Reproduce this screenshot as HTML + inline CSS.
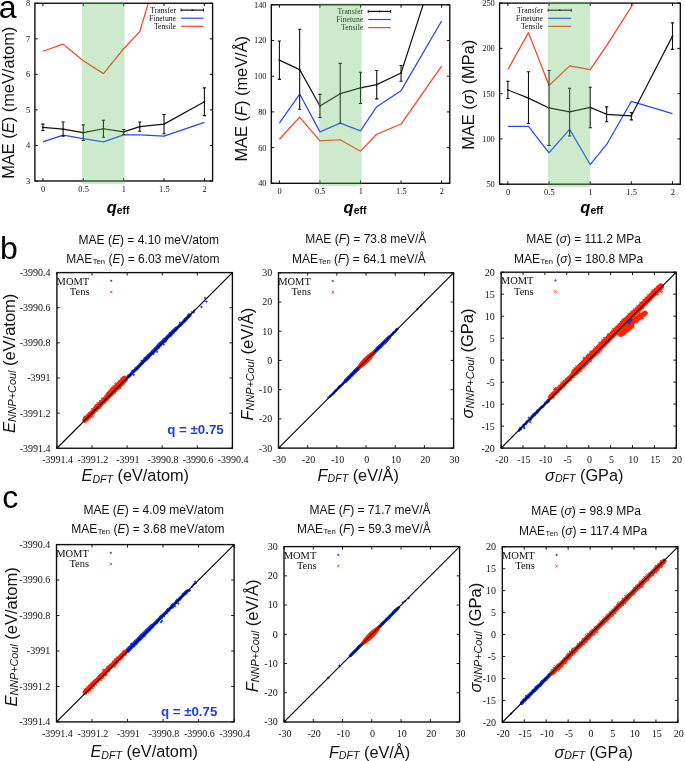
<!DOCTYPE html><html><head><meta charset="utf-8"><style>html,body{margin:0;padding:0;background:#fff;overflow:hidden}svg{display:block;will-change:transform}</style></head><body>
<svg width="685" height="761" viewBox="0 0 685 761">
<rect width="685" height="761" fill="#fff"/>
<clipPath id="ca1"><rect x="34.9" y="3.25" width="177.7" height="177.75"/></clipPath>
<text x="43.20" y="191.80" font-family="'Liberation Serif', serif" font-size="8.4" text-anchor="middle" fill="#111">0</text>
<text x="83.58" y="191.80" font-family="'Liberation Serif', serif" font-size="8.4" text-anchor="middle" fill="#111">0.5</text>
<text x="123.95" y="191.80" font-family="'Liberation Serif', serif" font-size="8.4" text-anchor="middle" fill="#111">1</text>
<text x="164.33" y="191.80" font-family="'Liberation Serif', serif" font-size="8.4" text-anchor="middle" fill="#111">1.5</text>
<text x="204.70" y="191.80" font-family="'Liberation Serif', serif" font-size="8.4" text-anchor="middle" fill="#111">2</text>
<text x="30.10" y="183.90" font-family="'Liberation Serif', serif" font-size="8.4" text-anchor="end" fill="#111">3</text>
<text x="30.10" y="148.35" font-family="'Liberation Serif', serif" font-size="8.4" text-anchor="end" fill="#111">4</text>
<text x="30.10" y="112.80" font-family="'Liberation Serif', serif" font-size="8.4" text-anchor="end" fill="#111">5</text>
<text x="30.10" y="77.25" font-family="'Liberation Serif', serif" font-size="8.4" text-anchor="end" fill="#111">6</text>
<text x="30.10" y="41.70" font-family="'Liberation Serif', serif" font-size="8.4" text-anchor="end" fill="#111">7</text>
<text x="30.10" y="6.15" font-family="'Liberation Serif', serif" font-size="8.4" text-anchor="end" fill="#111">8</text>
<path d="M42.90 181.0v-2.9M42.90 3.25v2.9M83.28 181.0v-2.9M83.28 3.25v2.9M123.65 181.0v-2.9M123.65 3.25v2.9M164.03 181.0v-2.9M164.03 3.25v2.9M204.40 181.0v-2.9M204.40 3.25v2.9M34.9 181.00h2.9M212.6 181.00h-2.9M34.9 145.45h2.9M212.6 145.45h-2.9M34.9 109.90h2.9M212.6 109.90h-2.9M34.9 74.35h2.9M212.6 74.35h-2.9M34.9 38.80h2.9M212.6 38.80h-2.9M34.9 3.25h2.9M212.6 3.25h-2.9" stroke="#0a0a0a" stroke-width="0.95"/>
<g clip-path="url(#ca1)" fill="none" stroke-linejoin="round">
<polyline points="42.90,51.24 63.09,44.13 83.28,60.84 103.46,73.64 123.65,48.75 139.80,31.69 164.03,-50.07" stroke="#ff3f1f" stroke-width="1.25"/>
<polyline points="42.90,141.90 63.09,135.14 83.28,138.70 103.46,141.90 123.65,134.79 139.80,134.79 164.03,136.21 204.40,122.34" stroke="#2448ff" stroke-width="1.25"/>
<polyline points="42.90,127.32 63.09,129.10 83.28,132.65 103.46,128.74 123.65,131.94 139.80,126.61 164.03,124.12 204.40,101.72" stroke="#111" stroke-width="1.2"/>
<path d="M42.90 130.52V124.12M41.30 130.52h3.2M41.30 124.12h3.2M63.09 136.21V121.99M61.49 136.21h3.2M61.49 121.99h3.2M83.28 140.47V124.83M81.68 140.47h3.2M81.68 124.83h3.2M103.46 137.27V120.21M101.86 137.27h3.2M101.86 120.21h3.2M123.65 134.43V129.45M122.05 134.43h3.2M122.05 129.45h3.2M139.80 131.23V121.99M138.20 131.23h3.2M138.20 121.99h3.2M164.03 133.72V114.52M162.43 133.72h3.2M162.43 114.52h3.2M204.40 115.59V87.86M202.80 115.59h3.2M202.80 87.86h3.2" stroke="#111" stroke-width="1.1"/>
<circle cx="42.90" cy="127.32" r="0.9" fill="#111" stroke="none"/>
<circle cx="63.09" cy="129.10" r="0.9" fill="#111" stroke="none"/>
<circle cx="83.28" cy="132.65" r="0.9" fill="#111" stroke="none"/>
<circle cx="103.46" cy="128.74" r="0.9" fill="#111" stroke="none"/>
<circle cx="123.65" cy="131.94" r="0.9" fill="#111" stroke="none"/>
<circle cx="139.80" cy="126.61" r="0.9" fill="#111" stroke="none"/>
<circle cx="164.03" cy="124.12" r="0.9" fill="#111" stroke="none"/>
<circle cx="204.40" cy="101.72" r="0.9" fill="#111" stroke="none"/>
</g>
<rect x="34.90" y="3.25" width="177.70" height="177.75" fill="none" stroke="#0a0a0a" stroke-width="1.35"/>
<text x="176.00" y="12.70" font-family="'Liberation Serif', serif" font-size="7.7" text-anchor="end" fill="#111">Transfer</text>
<line x1="181.10" y1="10.10" x2="203.50" y2="10.10" stroke="#111" stroke-width="1.2"/>
<path d="M181.10 8.60v3M203.50 8.60v3" stroke="#111" stroke-width="1"/>
<circle cx="192.30" cy="10.10" r="0.9" fill="#111"/>
<text x="176.00" y="20.80" font-family="'Liberation Serif', serif" font-size="7.7" text-anchor="end" fill="#111">Finetune</text>
<line x1="181.10" y1="18.20" x2="203.50" y2="18.20" stroke="#2448ff" stroke-width="1.2"/>
<text x="176.00" y="28.90" font-family="'Liberation Serif', serif" font-size="7.7" text-anchor="end" fill="#111">Tensile</text>
<line x1="181.10" y1="26.30" x2="203.50" y2="26.30" stroke="#ff3f1f" stroke-width="1.2"/>
<rect x="82.00" y="1.65" width="42.60" height="182.35" fill="rgb(95,188,92)" fill-opacity="0.315"/>
<text transform="translate(13.90,178.80) rotate(-90)" font-family="'Liberation Sans', sans-serif" font-size="16.4" fill="#111">MAE (<tspan font-style="italic">E</tspan>) (meV/atom)</text>
<text x="106.70" y="212.90" font-family="'Liberation Sans', sans-serif" font-weight="bold" fill="#000"><tspan font-style="italic" font-size="16.5">q</tspan><tspan font-size="10.5" dy="0.8">eff</tspan></text>
<clipPath id="ca2"><rect x="271.3" y="4.8" width="178.5" height="178.5"/></clipPath>
<text x="279.70" y="194.10" font-family="'Liberation Serif', serif" font-size="8.4" text-anchor="middle" fill="#111">0</text>
<text x="320.25" y="194.10" font-family="'Liberation Serif', serif" font-size="8.4" text-anchor="middle" fill="#111">0.5</text>
<text x="360.80" y="194.10" font-family="'Liberation Serif', serif" font-size="8.4" text-anchor="middle" fill="#111">1</text>
<text x="401.35" y="194.10" font-family="'Liberation Serif', serif" font-size="8.4" text-anchor="middle" fill="#111">1.5</text>
<text x="441.90" y="194.10" font-family="'Liberation Serif', serif" font-size="8.4" text-anchor="middle" fill="#111">2</text>
<text x="266.50" y="186.20" font-family="'Liberation Serif', serif" font-size="8.4" text-anchor="end" fill="#111">40</text>
<text x="266.50" y="150.50" font-family="'Liberation Serif', serif" font-size="8.4" text-anchor="end" fill="#111">60</text>
<text x="266.50" y="114.80" font-family="'Liberation Serif', serif" font-size="8.4" text-anchor="end" fill="#111">80</text>
<text x="266.50" y="79.10" font-family="'Liberation Serif', serif" font-size="8.4" text-anchor="end" fill="#111">100</text>
<text x="266.50" y="43.40" font-family="'Liberation Serif', serif" font-size="8.4" text-anchor="end" fill="#111">120</text>
<text x="266.50" y="7.70" font-family="'Liberation Serif', serif" font-size="8.4" text-anchor="end" fill="#111">140</text>
<path d="M279.40 183.3v-2.9M279.40 4.8v2.9M319.95 183.3v-2.9M319.95 4.8v2.9M360.50 183.3v-2.9M360.50 4.8v2.9M401.05 183.3v-2.9M401.05 4.8v2.9M441.60 183.3v-2.9M441.60 4.8v2.9M271.3 183.30h2.9M449.8 183.30h-2.9M271.3 147.60h2.9M449.8 147.60h-2.9M271.3 111.90h2.9M449.8 111.90h-2.9M271.3 76.20h2.9M449.8 76.20h-2.9M271.3 40.50h2.9M449.8 40.50h-2.9M271.3 4.80h2.9M449.8 4.80h-2.9" stroke="#0a0a0a" stroke-width="0.95"/>
<g clip-path="url(#ca2)" fill="none" stroke-linejoin="round">
<polyline points="279.40,139.21 299.67,117.08 319.95,140.82 340.23,139.75 360.50,151.17 376.72,134.21 401.05,124.04 441.60,66.20" stroke="#ff3f1f" stroke-width="1.25"/>
<polyline points="279.40,123.15 299.67,94.05 319.95,131.89 340.23,123.15 360.50,130.82 376.72,106.72 401.05,90.66 441.60,21.04" stroke="#2448ff" stroke-width="1.25"/>
<polyline points="279.40,60.14 299.67,69.60 319.95,106.01 340.23,93.69 360.50,87.80 376.72,84.59 401.05,72.99 441.60,-52.32" stroke="#111" stroke-width="1.2"/>
<path d="M279.40 79.41V41.04M277.80 79.41h3.2M277.80 41.04h3.2M299.67 109.22V29.25M298.07 109.22h3.2M298.07 29.25h3.2M319.95 117.43V94.41M318.35 117.43h3.2M318.35 94.41h3.2M340.23 123.50V63.35M338.62 123.50h3.2M338.62 63.35h3.2M360.50 103.51V72.27M358.90 103.51h3.2M358.90 72.27h3.2M376.72 98.87V70.49M375.12 98.87h3.2M375.12 70.49h3.2M401.05 81.20V65.49M399.45 81.20h3.2M399.45 65.49h3.2" stroke="#111" stroke-width="1.1"/>
<circle cx="279.40" cy="60.14" r="0.9" fill="#111" stroke="none"/>
<circle cx="299.67" cy="69.60" r="0.9" fill="#111" stroke="none"/>
<circle cx="319.95" cy="106.01" r="0.9" fill="#111" stroke="none"/>
<circle cx="340.23" cy="93.69" r="0.9" fill="#111" stroke="none"/>
<circle cx="360.50" cy="87.80" r="0.9" fill="#111" stroke="none"/>
<circle cx="376.72" cy="84.59" r="0.9" fill="#111" stroke="none"/>
<circle cx="401.05" cy="72.99" r="0.9" fill="#111" stroke="none"/>
</g>
<rect x="271.30" y="4.80" width="178.50" height="178.50" fill="none" stroke="#0a0a0a" stroke-width="1.35"/>
<text x="363.20" y="14.00" font-family="'Liberation Serif', serif" font-size="7.7" text-anchor="end" fill="#111">Transfer</text>
<line x1="368.20" y1="11.40" x2="390.70" y2="11.40" stroke="#111" stroke-width="1.2"/>
<path d="M368.20 9.90v3M390.70 9.90v3" stroke="#111" stroke-width="1"/>
<circle cx="379.45" cy="11.40" r="0.9" fill="#111"/>
<text x="363.20" y="22.10" font-family="'Liberation Serif', serif" font-size="7.7" text-anchor="end" fill="#111">Finetune</text>
<line x1="368.20" y1="19.50" x2="390.70" y2="19.50" stroke="#2448ff" stroke-width="1.2"/>
<text x="363.20" y="30.20" font-family="'Liberation Serif', serif" font-size="7.7" text-anchor="end" fill="#111">Tensile</text>
<line x1="368.20" y1="27.60" x2="390.70" y2="27.60" stroke="#ff3f1f" stroke-width="1.2"/>
<rect x="318.90" y="3.20" width="42.80" height="183.10" fill="rgb(95,188,92)" fill-opacity="0.315"/>
<text transform="translate(247.30,161.60) rotate(-90)" font-family="'Liberation Sans', sans-serif" font-size="16.4" fill="#111">MAE (<tspan font-style="italic">F</tspan>) (meV/Å)</text>
<text x="343.60" y="212.90" font-family="'Liberation Sans', sans-serif" font-weight="bold" fill="#000"><tspan font-style="italic" font-size="16.5">q</tspan><tspan font-size="10.5" dy="0.8">eff</tspan></text>
<clipPath id="ca3"><rect x="499.6" y="3.1" width="180.69999999999993" height="181.1"/></clipPath>
<text x="508.20" y="195.00" font-family="'Liberation Serif', serif" font-size="8.4" text-anchor="middle" fill="#111">0</text>
<text x="549.35" y="195.00" font-family="'Liberation Serif', serif" font-size="8.4" text-anchor="middle" fill="#111">0.5</text>
<text x="590.50" y="195.00" font-family="'Liberation Serif', serif" font-size="8.4" text-anchor="middle" fill="#111">1</text>
<text x="631.65" y="195.00" font-family="'Liberation Serif', serif" font-size="8.4" text-anchor="middle" fill="#111">1.5</text>
<text x="672.80" y="195.00" font-family="'Liberation Serif', serif" font-size="8.4" text-anchor="middle" fill="#111">2</text>
<text x="494.80" y="187.10" font-family="'Liberation Serif', serif" font-size="8.4" text-anchor="end" fill="#111">50</text>
<text x="494.80" y="141.82" font-family="'Liberation Serif', serif" font-size="8.4" text-anchor="end" fill="#111">100</text>
<text x="494.80" y="96.55" font-family="'Liberation Serif', serif" font-size="8.4" text-anchor="end" fill="#111">150</text>
<text x="494.80" y="51.27" font-family="'Liberation Serif', serif" font-size="8.4" text-anchor="end" fill="#111">200</text>
<text x="494.80" y="6.00" font-family="'Liberation Serif', serif" font-size="8.4" text-anchor="end" fill="#111">250</text>
<path d="M507.90 184.2v-2.9M507.90 3.1v2.9M549.05 184.2v-2.9M549.05 3.1v2.9M590.20 184.2v-2.9M590.20 3.1v2.9M631.35 184.2v-2.9M631.35 3.1v2.9M672.50 184.2v-2.9M672.50 3.1v2.9M499.6 184.20h2.9M680.3 184.20h-2.9M499.6 138.92h2.9M680.3 138.92h-2.9M499.6 93.65h2.9M680.3 93.65h-2.9M499.6 48.38h2.9M680.3 48.38h-2.9M499.6 3.10h2.9M680.3 3.10h-2.9" stroke="#0a0a0a" stroke-width="0.95"/>
<g clip-path="url(#ca3)" fill="none" stroke-linejoin="round">
<polyline points="507.90,69.56 528.48,32.62 549.05,85.50 569.62,65.85 590.20,69.65 606.66,45.66 631.35,6.72 639.58,-7.77" stroke="#ff3f1f" stroke-width="1.25"/>
<polyline points="507.90,126.43 528.48,126.43 549.05,152.78 569.62,129.42 590.20,164.55 606.66,144.45 631.35,101.44 672.50,113.57" stroke="#2448ff" stroke-width="1.25"/>
<polyline points="507.90,89.94 528.48,98.09 549.05,107.96 569.62,111.85 590.20,107.41 606.66,114.30 631.35,115.83 672.50,36.15" stroke="#111" stroke-width="1.2"/>
<path d="M507.90 98.45V81.24M506.30 98.45h3.2M506.30 81.24h3.2M528.48 123.53V71.74M526.88 123.53h3.2M526.88 71.74h3.2M549.05 145.44V70.56M547.45 145.44h3.2M547.45 70.56h3.2M569.62 135.94V88.22M568.02 135.94h3.2M568.02 88.22h3.2M590.20 127.70V87.31M588.60 127.70h3.2M588.60 87.31h3.2M606.66 121.72V106.87M605.06 121.72h3.2M605.06 106.87h3.2M631.35 119.91V112.57M629.75 119.91h3.2M629.75 112.57h3.2M672.50 49.37V22.84M670.90 49.37h3.2M670.90 22.84h3.2" stroke="#111" stroke-width="1.1"/>
<circle cx="507.90" cy="89.94" r="0.9" fill="#111" stroke="none"/>
<circle cx="528.48" cy="98.09" r="0.9" fill="#111" stroke="none"/>
<circle cx="549.05" cy="107.96" r="0.9" fill="#111" stroke="none"/>
<circle cx="569.62" cy="111.85" r="0.9" fill="#111" stroke="none"/>
<circle cx="590.20" cy="107.41" r="0.9" fill="#111" stroke="none"/>
<circle cx="606.66" cy="114.30" r="0.9" fill="#111" stroke="none"/>
<circle cx="631.35" cy="115.83" r="0.9" fill="#111" stroke="none"/>
<circle cx="672.50" cy="36.15" r="0.9" fill="#111" stroke="none"/>
</g>
<rect x="499.60" y="3.10" width="180.70" height="181.10" fill="none" stroke="#0a0a0a" stroke-width="1.35"/>
<text x="543.00" y="12.80" font-family="'Liberation Serif', serif" font-size="7.7" text-anchor="end" fill="#111">Transfer</text>
<line x1="548.20" y1="10.20" x2="571.20" y2="10.20" stroke="#111" stroke-width="1.2"/>
<path d="M548.20 8.70v3M571.20 8.70v3" stroke="#111" stroke-width="1"/>
<circle cx="559.70" cy="10.20" r="0.9" fill="#111"/>
<text x="543.00" y="20.90" font-family="'Liberation Serif', serif" font-size="7.7" text-anchor="end" fill="#111">Finetune</text>
<line x1="548.20" y1="18.30" x2="571.20" y2="18.30" stroke="#2448ff" stroke-width="1.2"/>
<text x="543.00" y="29.00" font-family="'Liberation Serif', serif" font-size="7.7" text-anchor="end" fill="#111">Tensile</text>
<line x1="548.20" y1="26.40" x2="571.20" y2="26.40" stroke="#ff3f1f" stroke-width="1.2"/>
<rect x="548.00" y="1.50" width="42.30" height="185.70" fill="rgb(95,188,92)" fill-opacity="0.315"/>
<text transform="translate(474.20,149.80) rotate(-90)" font-family="'Liberation Sans', sans-serif" font-size="16.4" fill="#111">MAE (<tspan font-style="italic">σ</tspan>) (MPa)</text>
<text x="580.30" y="212.90" font-family="'Liberation Sans', sans-serif" font-weight="bold" fill="#000"><tspan font-style="italic" font-size="16.5">q</tspan><tspan font-size="10.5" dy="0.8">eff</tspan></text>
<clipPath id="cb1"><rect x="56.9" y="272.6" width="175.5" height="175.64999999999998"/></clipPath>
<text x="57.70" y="462.95" font-family="'Liberation Serif', serif" font-size="10" text-anchor="middle" fill="#111">-3991.4</text>
<text x="50.60" y="451.65" font-family="'Liberation Serif', serif" font-size="10" text-anchor="end" fill="#111">-3991.4</text>
<text x="92.80" y="462.95" font-family="'Liberation Serif', serif" font-size="10" text-anchor="middle" fill="#111">-3991.2</text>
<text x="50.60" y="416.52" font-family="'Liberation Serif', serif" font-size="10" text-anchor="end" fill="#111">-3991.2</text>
<text x="127.90" y="462.95" font-family="'Liberation Serif', serif" font-size="10" text-anchor="middle" fill="#111">-3991</text>
<text x="50.60" y="381.39" font-family="'Liberation Serif', serif" font-size="10" text-anchor="end" fill="#111">-3991</text>
<text x="163.00" y="462.95" font-family="'Liberation Serif', serif" font-size="10" text-anchor="middle" fill="#111">-3990.8</text>
<text x="50.60" y="346.26" font-family="'Liberation Serif', serif" font-size="10" text-anchor="end" fill="#111">-3990.8</text>
<text x="198.10" y="462.95" font-family="'Liberation Serif', serif" font-size="10" text-anchor="middle" fill="#111">-3990.6</text>
<text x="50.60" y="311.13" font-family="'Liberation Serif', serif" font-size="10" text-anchor="end" fill="#111">-3990.6</text>
<text x="233.20" y="462.95" font-family="'Liberation Serif', serif" font-size="10" text-anchor="middle" fill="#111">-3990.4</text>
<text x="50.60" y="276.00" font-family="'Liberation Serif', serif" font-size="10" text-anchor="end" fill="#111">-3990.4</text>
<path d="M56.90 448.25v-3.0M56.90 272.6v3.0M56.9 448.25h3.0M232.4 448.25h-3.0M92.00 448.25v-3.0M92.00 272.6v3.0M56.9 413.12h3.0M232.4 413.12h-3.0M127.10 448.25v-3.0M127.10 272.6v3.0M56.9 377.99h3.0M232.4 377.99h-3.0M162.20 448.25v-3.0M162.20 272.6v3.0M56.9 342.86h3.0M232.4 342.86h-3.0M197.30 448.25v-3.0M197.30 272.6v3.0M56.9 307.73h3.0M232.4 307.73h-3.0M232.40 448.25v-3.0M232.40 272.6v3.0M56.9 272.60h3.0M232.4 272.60h-3.0" stroke="#0a0a0a" stroke-width="0.9"/>
<g clip-path="url(#cb1)" fill="none">
<path d="M128.0 377.1L190.3 314.8" stroke="#0b30ff" stroke-width="3.1" stroke-linecap="round"/>
<path d="M144.4 360.1L176.0 328.5" stroke="#0b30ff" stroke-width="3.7" stroke-linecap="round"/>
<path d="M154.7 348.6h2.2M155.8 347.5v2.2M180.3 323.9h2.2M181.4 322.8v2.2M158.8 345.3h2.2M159.9 344.2v2.2M146.2 358.6h2.2M147.3 357.5v2.2M182.8 322.1h2.2M183.9 321.0v2.2M151.1 351.9h2.2M152.2 350.8v2.2M165.7 339.2h2.2M166.8 338.1v2.2M178.7 325.3h2.2M179.8 324.2v2.2M139.2 365.7h2.2M140.3 364.6v2.2M175.0 328.2h2.2M176.1 327.1v2.2M179.9 325.1h2.2M181.0 324.0v2.2M158.4 346.3h2.2M159.5 345.2v2.2M144.8 360.3h2.2M145.9 359.2v2.2M146.9 357.9h2.2M148.0 356.8v2.2M129.0 375.6h2.2M130.1 374.5v2.2M179.6 324.3h2.2M180.7 323.2v2.2M128.1 376.2h2.2M129.2 375.1v2.2M185.0 319.7h2.2M186.1 318.6v2.2M187.6 315.7h2.2M188.7 314.6v2.2M162.8 342.4h2.2M163.9 341.3v2.2M143.9 360.5h2.2M145.0 359.4v2.2M127.2 375.6h2.2M128.3 374.5v2.2M134.8 370.3h2.2M135.9 369.2v2.2M126.9 375.8h2.2M128.0 374.7v2.2M138.3 366.4h2.2M139.4 365.3v2.2M139.1 365.5h2.2M140.2 364.4v2.2M150.5 352.9h2.2M151.6 351.8v2.2M139.5 363.2h2.2M140.6 362.1v2.2M186.8 315.5h2.2M187.9 314.4v2.2M128.4 376.2h2.2M129.5 375.1v2.2M180.1 323.9h2.2M181.2 322.8v2.2M135.8 367.8h2.2M136.9 366.7v2.2M174.4 328.3h2.2M175.5 327.2v2.2M151.0 353.1h2.2M152.1 352.0v2.2M163.2 340.8h2.2M164.3 339.7v2.2M149.7 354.0h2.2M150.8 352.9v2.2M164.1 341.2h2.2M165.2 340.1v2.2M138.5 366.0h2.2M139.6 364.9v2.2M141.7 363.4h2.2M142.8 362.3v2.2M137.3 367.8h2.2M138.4 366.7v2.2M150.6 352.4h2.2M151.7 351.3v2.2M153.2 350.9h2.2M154.3 349.8v2.2M158.6 345.0h2.2M159.7 343.9v2.2M170.4 332.8h2.2M171.5 331.7v2.2M183.0 320.5h2.2M184.1 319.4v2.2M137.9 366.3h2.2M139.0 365.2v2.2M157.0 347.4h2.2M158.1 346.3v2.2M184.6 320.5h2.2M185.7 319.4v2.2M130.8 372.5h2.2M131.9 371.4v2.2M130.9 373.6h2.2M132.0 372.5v2.2M160.0 344.1h2.2M161.1 343.0v2.2M134.7 367.7h2.2M135.8 366.6v2.2M168.3 336.6h2.2M169.4 335.5v2.2M183.7 318.8h2.2M184.8 317.7v2.2M170.6 333.4h2.2M171.7 332.3v2.2M166.5 337.4h2.2M167.6 336.3v2.2M147.0 358.5h2.2M148.1 357.4v2.2M131.0 371.8h2.2M132.1 370.7v2.2M183.6 321.6h2.2M184.7 320.5v2.2M183.8 320.0h2.2M184.9 318.9v2.2M157.0 348.3h2.2M158.1 347.2v2.2M153.5 351.8h2.2M154.6 350.7v2.2M162.3 341.1h2.2M163.4 340.0v2.2M127.7 376.4h2.2M128.8 375.3v2.2M166.0 336.6h2.2M167.1 335.5v2.2M171.5 331.0h2.2M172.6 329.9v2.2M169.8 333.5h2.2M170.9 332.4v2.2M179.5 325.2h2.2M180.6 324.1v2.2M158.5 344.6h2.2M159.6 343.5v2.2M157.6 347.9h2.2M158.7 346.8v2.2M133.7 369.9h2.2M134.8 368.8v2.2M127.5 376.3h2.2M128.6 375.2v2.2M165.6 339.6h2.2M166.7 338.5v2.2M147.8 355.4h2.2M148.9 354.3v2.2M141.4 361.5h2.2M142.5 360.4v2.2M138.6 364.1h2.2M139.7 363.0v2.2M174.6 330.7h2.2M175.7 329.6v2.2M150.7 353.0h2.2M151.8 351.9v2.2M134.6 368.1h2.2M135.7 367.0v2.2M171.0 334.3h2.2M172.1 333.2v2.2M152.2 351.6h2.2M153.3 350.5v2.2M159.0 346.1h2.2M160.1 345.0v2.2M154.7 347.4h2.2M155.8 346.3v2.2M165.5 337.1h2.2M166.6 336.0v2.2M168.6 333.1h2.2M169.7 332.0v2.2M144.0 358.2h2.2M145.1 357.1v2.2M153.7 351.0h2.2M154.8 349.9v2.2M156.2 347.4h2.2M157.3 346.3v2.2M170.3 334.7h2.2M171.4 333.6v2.2M168.9 335.4h2.2M170.0 334.3v2.2M162.2 339.3h2.2M163.3 338.2v2.2M165.7 339.3h2.2M166.8 338.2v2.2M152.1 352.8h2.2M153.2 351.7v2.2M160.4 343.5h2.2M161.5 342.4v2.2M151.3 351.0h2.2M152.4 349.9v2.2M173.6 330.6h2.2M174.7 329.5v2.2M168.4 335.3h2.2M169.5 334.2v2.2M172.5 330.5h2.2M173.6 329.4v2.2M158.0 346.2h2.2M159.1 345.1v2.2M160.7 341.7h2.2M161.8 340.6v2.2M164.0 339.7h2.2M165.1 338.6v2.2M170.9 333.0h2.2M172.0 331.9v2.2M172.7 332.7h2.2M173.8 331.6v2.2M159.9 342.9h2.2M161.0 341.8v2.2M166.3 337.8h2.2M167.4 336.7v2.2M145.5 357.1h2.2M146.6 356.0v2.2M156.1 346.3h2.2M157.2 345.2v2.2M144.6 359.7h2.2M145.7 358.6v2.2M143.7 358.3h2.2M144.8 357.2v2.2M172.0 331.0h2.2M173.1 329.9v2.2M158.6 342.9h2.2M159.7 341.8v2.2M159.6 345.3h2.2M160.7 344.2v2.2M156.3 345.4h2.2M157.4 344.3v2.2M161.6 342.9h2.2M162.7 341.8v2.2M169.6 333.1h2.2M170.7 332.0v2.2M155.7 348.4h2.2M156.8 347.3v2.2M147.1 355.1h2.2M148.2 354.0v2.2M150.1 354.3h2.2M151.2 353.2v2.2M163.0 341.6h2.2M164.1 340.5v2.2M131.4 370.8h2.2M132.5 369.7v2.2M192.5 312.4h2.2M193.6 311.3v2.2M136.8 366.3h2.2M137.9 365.2v2.2M188.0 315.3h2.2M189.1 314.2v2.2M157.2 344.1h2.2M158.3 343.0v2.2M155.8 349.6h2.2M156.9 348.5v2.2M145.8 359.7h2.2M146.9 358.6v2.2M186.4 317.5h2.2M187.5 316.4v2.2M187.7 314.4h2.2M188.8 313.3v2.2M136.9 368.1h2.2M138.0 367.0v2.2M155.4 347.3h2.2M156.5 346.2v2.2M173.7 330.0h2.2M174.8 328.9v2.2M190.8 312.2h2.2M191.9 311.1v2.2M130.1 373.6h2.2M131.2 372.5v2.2M147.6 356.6h2.2M148.7 355.5v2.2M161.7 343.6h2.2M162.8 342.5v2.2M162.5 344.3h2.2M163.6 343.2v2.2M169.7 335.9h2.2M170.8 334.8v2.2M175.4 329.6h2.2M176.5 328.5v2.2M132.6 374.7h2.2M133.7 373.6v2.2M169.0 333.9h2.2M170.1 332.8v2.2M164.6 341.5h2.2M165.7 340.4v2.2M184.7 320.4h2.2M185.8 319.3v2.2M143.3 360.9h2.2M144.4 359.8v2.2M164.2 340.5h2.2M165.3 339.4v2.2M187.5 316.9h2.2M188.6 315.8v2.2M169.5 335.1h2.2M170.6 334.0v2.2M167.2 335.9h2.2M168.3 334.8v2.2M185.3 317.7h2.2M186.4 316.6v2.2M140.4 360.8h2.2M141.5 359.7v2.2M135.3 368.0h2.2M136.4 366.9v2.2M135.4 369.2h2.2M136.5 368.1v2.2M155.9 351.8h2.2M157.0 350.7v2.2M163.0 339.3h2.2M164.1 338.2v2.2M173.7 329.5h2.2M174.8 328.4v2.2M178.8 322.8h2.2M179.9 321.7v2.2M136.3 369.1h2.2M137.4 368.0v2.2M181.7 322.9h2.2M182.8 321.8v2.2M152.7 352.0h2.2M153.8 350.9v2.2M152.4 353.9h2.2M153.5 352.8v2.2M204.0 298.0h2.2M205.1 296.9v2.2M200.3 307.0h2.2M201.4 305.9v2.2M192.9 310.8h2.2M194.0 309.7v2.2M205.3 301.6h2.2M206.4 300.5v2.2" stroke="#0b30ff" stroke-width="1"/>
<path d="M84.8 420.0L93.6 411.2" stroke="#ff2200" stroke-width="5.2" stroke-linecap="round"/>
<path d="M95.2 409.3L107.5 397.0" stroke="#ff2200" stroke-width="5.6" stroke-linecap="round"/>
<path d="M108.9 394.9L124.7 379.1" stroke="#ff2200" stroke-width="6.6" stroke-linecap="round"/>
<path d="M88.7 415.4l2.4 2.4M88.7 417.8l2.4-2.4M86.8 418.4l2.4 2.4M86.8 420.8l2.4-2.4M92.9 411.8l2.4 2.4M92.9 414.2l2.4-2.4M84.1 416.9l2.4 2.4M84.1 419.3l2.4-2.4M83.4 416.9l2.4 2.4M83.4 419.3l2.4-2.4M87.3 413.4l2.4 2.4M87.3 415.8l2.4-2.4M88.2 416.8l2.4 2.4M88.2 419.2l2.4-2.4M84.3 416.3l2.4 2.4M84.3 418.7l2.4-2.4M88.0 416.7l2.4 2.4M88.0 419.1l2.4-2.4M85.4 418.9l2.4 2.4M85.4 421.3l2.4-2.4M93.8 405.8l2.4 2.4M93.8 408.2l2.4-2.4M95.0 404.4l2.4 2.4M95.0 406.8l2.4-2.4M98.6 406.3l2.4 2.4M98.6 408.7l2.4-2.4M102.6 397.6l2.4 2.4M102.6 400.0l2.4-2.4M96.7 402.7l2.4 2.4M96.7 405.1l2.4-2.4M102.4 397.7l2.4 2.4M102.4 400.1l2.4-2.4M95.2 404.8l2.4 2.4M95.2 407.2l2.4-2.4M93.7 405.3l2.4 2.4M93.7 407.7l2.4-2.4M106.1 398.0l2.4 2.4M106.1 400.4l2.4-2.4M104.5 395.4l2.4 2.4M104.5 397.8l2.4-2.4M103.4 401.2l2.4 2.4M103.4 403.6l2.4-2.4M97.5 402.0l2.4 2.4M97.5 404.4l2.4-2.4M101.1 398.0l2.4 2.4M101.1 400.4l2.4-2.4M95.7 409.2l2.4 2.4M95.7 411.6l2.4-2.4M96.0 403.8l2.4 2.4M96.0 406.2l2.4-2.4M118.5 380.5l2.4 2.4M118.5 382.9l2.4-2.4M110.0 387.8l2.4 2.4M110.0 390.2l2.4-2.4M114.5 383.1l2.4 2.4M114.5 385.5l2.4-2.4M118.3 386.4l2.4 2.4M118.3 388.8l2.4-2.4M122.1 382.5l2.4 2.4M122.1 384.9l2.4-2.4M119.7 384.6l2.4 2.4M119.7 387.0l2.4-2.4M121.0 377.3l2.4 2.4M121.0 379.7l2.4-2.4M108.8 389.5l2.4 2.4M108.8 391.9l2.4-2.4M115.3 382.4l2.4 2.4M115.3 384.8l2.4-2.4M112.7 385.4l2.4 2.4M112.7 387.8l2.4-2.4M111.9 386.4l2.4 2.4M111.9 388.8l2.4-2.4M110.3 387.8l2.4 2.4M110.3 390.2l2.4-2.4M120.7 383.1l2.4 2.4M120.7 385.5l2.4-2.4M113.2 391.5l2.4 2.4M113.2 393.9l2.4-2.4M112.9 386.0l2.4 2.4M112.9 388.4l2.4-2.4M111.5 387.5l2.4 2.4M111.5 389.9l2.4-2.4M122.1 376.8l2.4 2.4M122.1 379.2l2.4-2.4M120.3 377.7l2.4 2.4M120.3 380.1l2.4-2.4M112.9 391.0l2.4 2.4M112.9 393.4l2.4-2.4M86.0 414.4l2.4 2.4M86.0 416.8l2.4-2.4M90.6 415.1l2.4 2.4M90.6 417.5l2.4-2.4M123.7 378.0l2.4 2.4M123.7 380.4l2.4-2.4M83.2 415.8l2.4 2.4M83.2 418.2l2.4-2.4M99.1 400.1l2.4 2.4M99.1 402.5l2.4-2.4M96.6 402.8l2.4 2.4M96.6 405.2l2.4-2.4M89.5 413.1l2.4 2.4M89.5 415.5l2.4-2.4M100.0 401.1l2.4 2.4M100.0 403.5l2.4-2.4M109.2 394.4l2.4 2.4M109.2 396.8l2.4-2.4M99.2 404.8l2.4 2.4M99.2 407.2l2.4-2.4M114.3 387.2l2.4 2.4M114.3 389.6l2.4-2.4M95.4 407.4l2.4 2.4M95.4 409.8l2.4-2.4M89.1 414.9l2.4 2.4M89.1 417.3l2.4-2.4M95.6 406.0l2.4 2.4M95.6 408.4l2.4-2.4M103.9 397.1l2.4 2.4M103.9 399.5l2.4-2.4M109.3 393.8l2.4 2.4M109.3 396.2l2.4-2.4M113.8 388.4l2.4 2.4M113.8 390.8l2.4-2.4M95.0 408.0l2.4 2.4M95.0 410.4l2.4-2.4M91.7 408.1l2.4 2.4M91.7 410.5l2.4-2.4M110.9 391.6l2.4 2.4M110.9 394.0l2.4-2.4M91.4 411.5l2.4 2.4M91.4 413.9l2.4-2.4M84.1 420.2l2.4 2.4M84.1 422.6l2.4-2.4M93.4 408.0l2.4 2.4M93.4 410.4l2.4-2.4M92.0 409.8l2.4 2.4M92.0 412.2l2.4-2.4M94.4 407.4l2.4 2.4M94.4 409.8l2.4-2.4M91.4 414.5l2.4 2.4M91.4 416.9l2.4-2.4M91.5 408.2l2.4 2.4M91.5 410.6l2.4-2.4M97.8 404.3l2.4 2.4M97.8 406.7l2.4-2.4M97.5 405.3l2.4 2.4M97.5 407.7l2.4-2.4M119.9 382.0l2.4 2.4M119.9 384.4l2.4-2.4M118.6 386.5l2.4 2.4M118.6 388.9l2.4-2.4M118.0 382.8l2.4 2.4M118.0 385.2l2.4-2.4M117.0 387.7l2.4 2.4M117.0 390.1l2.4-2.4M98.7 402.1l2.4 2.4M98.7 404.5l2.4-2.4M88.0 411.9l2.4 2.4M88.0 414.3l2.4-2.4M106.7 392.3l2.4 2.4M106.7 394.7l2.4-2.4M94.9 406.8l2.4 2.4M94.9 409.2l2.4-2.4M92.1 413.2l2.4 2.4M92.1 415.6l2.4-2.4M111.5 392.2l2.4 2.4M111.5 394.6l2.4-2.4M96.9 405.9l2.4 2.4M96.9 408.3l2.4-2.4" stroke="#ff2200" stroke-width="1"/>
<path d="M56.9 448.25L232.4 272.6" stroke="#000" stroke-width="1.15"/>
</g>
<rect x="56.90" y="272.60" width="175.50" height="175.65" fill="none" stroke="#0a0a0a" stroke-width="1.35"/>
<text x="56.60" y="284.60" font-family="'Liberation Serif', serif" font-size="10.5" text-anchor="start" fill="#111">MOMT</text>
<text x="89.50" y="295.00" font-family="'Liberation Serif', serif" font-size="10.5" text-anchor="end" fill="#111">Tens</text>
<path d="M110.10 280.80h2.2M111.20 279.70v2.2" stroke="#2448ff" stroke-width="1"/>
<path d="M110.00 290.80l2.4 2.4M110.00 293.20l2.4-2.4" stroke="#ff3f1f" stroke-width="0.9"/>
<text x="78.60" y="243.90" font-family="'Liberation Sans', sans-serif" font-size="12" fill="#111">MAE (<tspan font-style="italic">E</tspan>) = 4.10 meV/atom</text>
<text x="66.20" y="263.00" font-family="'Liberation Sans', sans-serif" font-size="12" fill="#111">MAE<tspan font-size="7.6" dx="0.6" dy="0.8">Ten</tspan><tspan dy="-0.8"> (</tspan><tspan font-style="italic">E</tspan>) = 6.03 meV/atom</text>
<text x="81.50" y="481.30" font-family="'Liberation Sans', sans-serif" font-size="16.3" fill="#111"><tspan font-style="italic">E</tspan><tspan font-style="italic" font-size="10.6" dy="1.3">DFT</tspan><tspan dy="-1.3"> (eV/atom)</tspan></text>
<text transform="translate(14.60,433.00) rotate(-90)" font-family="'Liberation Sans', sans-serif" font-size="16.5" fill="#111"><tspan font-style="italic">E</tspan><tspan font-style="italic" font-size="10.8" dy="1.2">NNP+Coul</tspan><tspan dy="-1.2"> (eV/atom)</tspan></text>
<text x="167.30" y="433.90" font-family="'Liberation Sans', sans-serif" font-size="13.3" font-weight="bold" fill="#1d3cf2">q = ±0.75</text>
<clipPath id="cb2"><rect x="278.5" y="272.8" width="175.10000000000002" height="175.3"/></clipPath>
<text x="279.30" y="462.80" font-family="'Liberation Serif', serif" font-size="10" text-anchor="middle" fill="#111">-30</text>
<text x="272.20" y="451.50" font-family="'Liberation Serif', serif" font-size="10" text-anchor="end" fill="#111">-30</text>
<text x="308.48" y="462.80" font-family="'Liberation Serif', serif" font-size="10" text-anchor="middle" fill="#111">-20</text>
<text x="272.20" y="422.28" font-family="'Liberation Serif', serif" font-size="10" text-anchor="end" fill="#111">-20</text>
<text x="337.67" y="462.80" font-family="'Liberation Serif', serif" font-size="10" text-anchor="middle" fill="#111">-10</text>
<text x="272.20" y="393.07" font-family="'Liberation Serif', serif" font-size="10" text-anchor="end" fill="#111">-10</text>
<text x="366.85" y="462.80" font-family="'Liberation Serif', serif" font-size="10" text-anchor="middle" fill="#111">0</text>
<text x="272.20" y="363.85" font-family="'Liberation Serif', serif" font-size="10" text-anchor="end" fill="#111">0</text>
<text x="396.03" y="462.80" font-family="'Liberation Serif', serif" font-size="10" text-anchor="middle" fill="#111">10</text>
<text x="272.20" y="334.63" font-family="'Liberation Serif', serif" font-size="10" text-anchor="end" fill="#111">10</text>
<text x="425.22" y="462.80" font-family="'Liberation Serif', serif" font-size="10" text-anchor="middle" fill="#111">20</text>
<text x="272.20" y="305.42" font-family="'Liberation Serif', serif" font-size="10" text-anchor="end" fill="#111">20</text>
<text x="454.40" y="462.80" font-family="'Liberation Serif', serif" font-size="10" text-anchor="middle" fill="#111">30</text>
<text x="272.20" y="276.20" font-family="'Liberation Serif', serif" font-size="10" text-anchor="end" fill="#111">30</text>
<path d="M278.50 448.1v-3.0M278.50 272.8v3.0M278.5 448.10h3.0M453.6 448.10h-3.0M307.68 448.1v-3.0M307.68 272.8v3.0M278.5 418.88h3.0M453.6 418.88h-3.0M336.87 448.1v-3.0M336.87 272.8v3.0M278.5 389.67h3.0M453.6 389.67h-3.0M366.05 448.1v-3.0M366.05 272.8v3.0M278.5 360.45h3.0M453.6 360.45h-3.0M395.23 448.1v-3.0M395.23 272.8v3.0M278.5 331.23h3.0M453.6 331.23h-3.0M424.42 448.1v-3.0M424.42 272.8v3.0M278.5 302.02h3.0M453.6 302.02h-3.0M453.60 448.1v-3.0M453.60 272.8v3.0M278.5 272.80h3.0M453.6 272.80h-3.0" stroke="#0a0a0a" stroke-width="0.9"/>
<g clip-path="url(#cb2)" fill="none">
<path d="M345.6 380.9L389.1 337.4" stroke="#0b30ff" stroke-width="4.0" stroke-linecap="round"/>
<path d="M329.6 397.0L397.6 328.9" stroke="#0b30ff" stroke-width="2.4" stroke-linecap="round"/>
<path d="M367.5 356.6h2.2M368.6 355.5v2.2M365.1 359.3h2.2M366.2 358.2v2.2M378.8 347.7h2.2M379.9 346.6v2.2M384.9 342.0h2.2M386.0 340.9v2.2M365.5 358.8h2.2M366.6 357.7v2.2M350.0 374.0h2.2M351.1 372.9v2.2M359.3 367.2h2.2M360.4 366.1v2.2M363.1 361.1h2.2M364.2 360.0v2.2M378.8 345.3h2.2M379.9 344.2v2.2M354.5 371.7h2.2M355.6 370.6v2.2M381.1 345.4h2.2M382.2 344.3v2.2M360.9 362.9h2.2M362.0 361.8v2.2M375.8 347.9h2.2M376.9 346.8v2.2M368.5 357.8h2.2M369.6 356.7v2.2M376.7 347.0h2.2M377.8 345.9v2.2M354.8 371.9h2.2M355.9 370.8v2.2M369.9 356.9h2.2M371.0 355.8v2.2M380.2 346.6h2.2M381.3 345.5v2.2M358.3 368.1h2.2M359.4 367.0v2.2M357.3 369.9h2.2M358.4 368.8v2.2M348.6 377.6h2.2M349.7 376.5v2.2M379.5 344.9h2.2M380.6 343.8v2.2M353.3 370.5h2.2M354.4 369.4v2.2M360.9 362.9h2.2M362.0 361.8v2.2M351.3 374.5h2.2M352.4 373.4v2.2M365.3 360.7h2.2M366.4 359.6v2.2M390.4 334.4h2.2M391.5 333.3v2.2M395.1 329.5h2.2M396.2 328.4v2.2M383.6 342.5h2.2M384.7 341.4v2.2M393.8 332.0h2.2M394.9 330.9v2.2M376.9 348.8h2.2M378.0 347.7v2.2M357.2 368.5h2.2M358.3 367.4v2.2M339.2 385.6h2.2M340.3 384.5v2.2M350.1 374.9h2.2M351.2 373.8v2.2M348.5 377.3h2.2M349.6 376.2v2.2M377.9 346.9h2.2M379.0 345.8v2.2M381.6 344.5h2.2M382.7 343.4v2.2M379.9 345.9h2.2M381.0 344.8v2.2M390.4 335.2h2.2M391.5 334.1v2.2M341.8 383.4h2.2M342.9 382.3v2.2M344.2 380.7h2.2M345.3 379.6v2.2M344.1 382.1h2.2M345.2 381.0v2.2M355.6 369.3h2.2M356.7 368.2v2.2M392.2 332.5h2.2M393.3 331.4v2.2M361.0 363.6h2.2M362.1 362.5v2.2M351.9 373.9h2.2M353.0 372.8v2.2M343.6 382.0h2.2M344.7 380.9v2.2M337.2 387.4h2.2M338.3 386.3v2.2M382.2 342.5h2.2M383.3 341.4v2.2M332.8 393.4h2.2M333.9 392.3v2.2M387.7 337.3h2.2M388.8 336.2v2.2M345.0 379.9h2.2M346.1 378.8v2.2M339.5 386.6h2.2M340.6 385.5v2.2M338.6 387.4h2.2M339.7 386.3v2.2M395.8 329.1h2.2M396.9 328.0v2.2M332.1 393.4h2.2M333.2 392.3v2.2M384.7 341.4h2.2M385.8 340.3v2.2M333.8 391.1h2.2M334.9 390.0v2.2M364.1 360.7h2.2M365.2 359.6v2.2M334.1 391.3h2.2M335.2 390.2v2.2M341.6 384.6h2.2M342.7 383.5v2.2M334.6 390.7h2.2M335.7 389.6v2.2M365.4 359.9h2.2M366.5 358.8v2.2M384.9 340.2h2.2M386.0 339.1v2.2M355.6 368.9h2.2M356.7 367.8v2.2M374.0 351.7h2.2M375.1 350.6v2.2M375.5 350.5h2.2M376.6 349.4v2.2M374.7 351.2h2.2M375.8 350.1v2.2M329.0 395.8h2.2M330.1 394.7v2.2M360.5 364.4h2.2M361.6 363.3v2.2M360.0 366.1h2.2M361.1 365.0v2.2M386.3 339.9h2.2M387.4 338.8v2.2M338.4 386.2h2.2M339.5 385.1v2.2M379.1 345.6h2.2M380.2 344.5v2.2M366.4 359.3h2.2M367.5 358.2v2.2M342.2 383.5h2.2M343.3 382.4v2.2M392.4 332.3h2.2M393.5 331.2v2.2M351.0 374.4h2.2M352.1 373.3v2.2M338.1 387.4h2.2M339.2 386.3v2.2M371.4 354.1h2.2M372.5 353.0v2.2M355.6 369.3h2.2M356.7 368.2v2.2M332.9 392.5h2.2M334.0 391.4v2.2M335.1 389.9h2.2M336.2 388.8v2.2M354.9 369.1h2.2M356.0 368.0v2.2M356.7 368.0h2.2M357.8 366.9v2.2M363.5 362.6h2.2M364.6 361.5v2.2M385.9 340.5h2.2M387.0 339.4v2.2M354.3 371.5h2.2M355.4 370.4v2.2M327.2 397.6h2.2M328.3 396.5v2.2M355.5 370.5h2.2M356.6 369.4v2.2M384.1 343.2h2.2M385.2 342.1v2.2M373.9 351.6h2.2M375.0 350.5v2.2M350.2 375.3h2.2M351.3 374.2v2.2M416.2 309.3h2.2M417.3 308.2v2.2M419.9 305.5h2.2M421.0 304.4v2.2" stroke="#0b30ff" stroke-width="1"/>
<path d="" stroke="#ff2200" stroke-width="1"/>
<ellipse cx="366.3" cy="360.0" rx="12.9" ry="3.2" fill="#ff2200" transform="rotate(-45 366.3 360.0)"/>
<path d="M278.5 448.1L453.6 272.8" stroke="#000" stroke-width="1.15"/>
</g>
<rect x="278.50" y="272.80" width="175.10" height="175.30" fill="none" stroke="#0a0a0a" stroke-width="1.35"/>
<text x="278.20" y="284.80" font-family="'Liberation Serif', serif" font-size="10.5" text-anchor="start" fill="#111">MOMT</text>
<text x="311.10" y="295.20" font-family="'Liberation Serif', serif" font-size="10.5" text-anchor="end" fill="#111">Tens</text>
<path d="M331.70 281.00h2.2M332.80 279.90v2.2" stroke="#2448ff" stroke-width="1"/>
<path d="M331.60 291.00l2.4 2.4M331.60 293.40l2.4-2.4" stroke="#ff3f1f" stroke-width="0.9"/>
<text x="305.30" y="243.10" font-family="'Liberation Sans', sans-serif" font-size="12" fill="#111">MAE (<tspan font-style="italic">F</tspan>) = 73.8 meV/Å</text>
<text x="291.90" y="263.00" font-family="'Liberation Sans', sans-serif" font-size="12" fill="#111">MAE<tspan font-size="7.6" dx="0.6" dy="0.8">Ten</tspan><tspan dy="-0.8"> (</tspan><tspan font-style="italic">F</tspan>) = 64.1 meV/Å</text>
<text x="317.60" y="481.00" font-family="'Liberation Sans', sans-serif" font-size="16.3" fill="#111"><tspan font-style="italic">F</tspan><tspan font-style="italic" font-size="10.6" dy="1.3">DFT</tspan><tspan dy="-1.3"> (eV/Å)</tspan></text>
<text transform="translate(253.00,420.50) rotate(-90)" font-family="'Liberation Sans', sans-serif" font-size="16.5" fill="#111"><tspan font-style="italic">F</tspan><tspan font-style="italic" font-size="10.8" dy="1.2">NNP+Coul</tspan><tspan dy="-1.2"> (eV/Å)</tspan></text>
<clipPath id="cb3"><rect x="501.1" y="272.2" width="175.19999999999993" height="175.90000000000003"/></clipPath>
<text x="501.90" y="462.80" font-family="'Liberation Serif', serif" font-size="10" text-anchor="middle" fill="#111">-20</text>
<text x="494.80" y="451.50" font-family="'Liberation Serif', serif" font-size="10" text-anchor="end" fill="#111">-20</text>
<text x="523.80" y="462.80" font-family="'Liberation Serif', serif" font-size="10" text-anchor="middle" fill="#111">-15</text>
<text x="494.80" y="429.51" font-family="'Liberation Serif', serif" font-size="10" text-anchor="end" fill="#111">-15</text>
<text x="545.70" y="462.80" font-family="'Liberation Serif', serif" font-size="10" text-anchor="middle" fill="#111">-10</text>
<text x="494.80" y="407.52" font-family="'Liberation Serif', serif" font-size="10" text-anchor="end" fill="#111">-10</text>
<text x="567.60" y="462.80" font-family="'Liberation Serif', serif" font-size="10" text-anchor="middle" fill="#111">-5</text>
<text x="494.80" y="385.54" font-family="'Liberation Serif', serif" font-size="10" text-anchor="end" fill="#111">-5</text>
<text x="589.50" y="462.80" font-family="'Liberation Serif', serif" font-size="10" text-anchor="middle" fill="#111">0</text>
<text x="494.80" y="363.55" font-family="'Liberation Serif', serif" font-size="10" text-anchor="end" fill="#111">0</text>
<text x="611.40" y="462.80" font-family="'Liberation Serif', serif" font-size="10" text-anchor="middle" fill="#111">5</text>
<text x="494.80" y="341.56" font-family="'Liberation Serif', serif" font-size="10" text-anchor="end" fill="#111">5</text>
<text x="633.30" y="462.80" font-family="'Liberation Serif', serif" font-size="10" text-anchor="middle" fill="#111">10</text>
<text x="494.80" y="319.57" font-family="'Liberation Serif', serif" font-size="10" text-anchor="end" fill="#111">10</text>
<text x="655.20" y="462.80" font-family="'Liberation Serif', serif" font-size="10" text-anchor="middle" fill="#111">15</text>
<text x="494.80" y="297.59" font-family="'Liberation Serif', serif" font-size="10" text-anchor="end" fill="#111">15</text>
<text x="677.10" y="462.80" font-family="'Liberation Serif', serif" font-size="10" text-anchor="middle" fill="#111">20</text>
<text x="494.80" y="275.60" font-family="'Liberation Serif', serif" font-size="10" text-anchor="end" fill="#111">20</text>
<path d="M501.10 448.1v-3.0M501.10 272.2v3.0M501.1 448.10h3.0M676.3 448.10h-3.0M523.00 448.1v-3.0M523.00 272.2v3.0M501.1 426.11h3.0M676.3 426.11h-3.0M544.90 448.1v-3.0M544.90 272.2v3.0M501.1 404.12h3.0M676.3 404.12h-3.0M566.80 448.1v-3.0M566.80 272.2v3.0M501.1 382.14h3.0M676.3 382.14h-3.0M588.70 448.1v-3.0M588.70 272.2v3.0M501.1 360.15h3.0M676.3 360.15h-3.0M610.60 448.1v-3.0M610.60 272.2v3.0M501.1 338.16h3.0M676.3 338.16h-3.0M632.50 448.1v-3.0M632.50 272.2v3.0M501.1 316.18h3.0M676.3 316.18h-3.0M654.40 448.1v-3.0M654.40 272.2v3.0M501.1 294.19h3.0M676.3 294.19h-3.0M676.30 448.1v-3.0M676.30 272.2v3.0M501.1 272.20h3.0M676.3 272.20h-3.0" stroke="#0a0a0a" stroke-width="0.9"/>
<g clip-path="url(#cb3)" fill="none">
<path d="M519.5 429.6L550.2 398.8" stroke="#0b30ff" stroke-width="2.4" stroke-linecap="round"/>
<path d="M533.4 413.4h2.2M534.5 412.3v2.2M537.3 411.0h2.2M538.4 409.9v2.2M534.5 412.7h2.2M535.6 411.6v2.2M529.6 419.2h2.2M530.7 418.1v2.2M524.9 423.9h2.2M526.0 422.8v2.2M519.8 429.4h2.2M520.9 428.3v2.2M522.2 425.0h2.2M523.3 423.9v2.2M539.7 408.1h2.2M540.8 407.0v2.2M544.8 402.4h2.2M545.9 401.3v2.2M522.4 426.0h2.2M523.5 424.9v2.2M536.2 412.5h2.2M537.3 411.4v2.2M526.1 421.1h2.2M527.2 420.0v2.2M522.4 426.1h2.2M523.5 425.0v2.2M546.4 402.6h2.2M547.5 401.5v2.2M529.7 418.6h2.2M530.8 417.5v2.2M535.5 413.1h2.2M536.6 412.0v2.2M531.0 417.4h2.2M532.1 416.3v2.2M538.5 408.5h2.2M539.6 407.4v2.2M538.1 410.0h2.2M539.2 408.9v2.2M531.1 417.0h2.2M532.2 415.9v2.2M530.1 417.6h2.2M531.2 416.5v2.2M534.2 413.5h2.2M535.3 412.4v2.2M547.4 401.4h2.2M548.5 400.3v2.2M519.8 428.8h2.2M520.9 427.7v2.2M534.0 414.6h2.2M535.1 413.5v2.2M530.5 416.4h2.2M531.6 415.3v2.2M532.7 414.1h2.2M533.8 413.0v2.2M544.0 402.7h2.2M545.1 401.6v2.2M522.6 426.7h2.2M523.7 425.6v2.2M534.2 413.1h2.2M535.3 412.0v2.2M519.3 429.1h2.2M520.4 428.0v2.2M536.8 410.1h2.2M537.9 409.0v2.2M536.1 410.6h2.2M537.2 409.5v2.2M545.4 402.7h2.2M546.5 401.6v2.2M531.4 415.2h2.2M532.5 414.1v2.2M533.4 415.4h2.2M534.5 414.3v2.2M525.3 421.8h2.2M526.4 420.7v2.2M547.9 401.4h2.2M549.0 400.3v2.2M540.2 406.5h2.2M541.3 405.4v2.2M531.0 416.6h2.2M532.1 415.5v2.2M542.2 406.7h2.2M543.3 405.6v2.2M535.6 411.8h2.2M536.7 410.7v2.2M543.4 404.9h2.2M544.5 403.8v2.2M523.2 428.2h2.2M524.3 427.1v2.2M517.9 430.9h2.2M519.0 429.8v2.2M525.6 422.8h2.2M526.7 421.7v2.2M519.0 427.9h2.2M520.1 426.8v2.2M546.2 401.1h2.2M547.3 400.0v2.2M529.7 419.6h2.2M530.8 418.5v2.2M536.3 411.3h2.2M537.4 410.2v2.2M546.6 401.2h2.2M547.7 400.1v2.2M529.1 422.1h2.2M530.2 421.0v2.2M549.2 398.7h2.2M550.3 397.6v2.2M532.7 415.0h2.2M533.8 413.9v2.2M546.9 399.9h2.2M548.0 398.8v2.2M546.1 400.9h2.2M547.2 399.8v2.2M527.7 417.7h2.2M528.8 416.6v2.2M532.1 414.4h2.2M533.2 413.3v2.2M548.5 396.8h2.2M549.6 395.7v2.2M501.1 447.1h2.2M502.2 446.0v2.2" stroke="#0b30ff" stroke-width="1"/>
<path d="M550.4 397.3L574.9 372.7" stroke="#ff2200" stroke-width="5.1" stroke-linecap="round"/>
<path d="M574.7 372.5L631.7 315.3" stroke="#ff2200" stroke-width="6.9" stroke-linecap="round"/>
<path d="M631.9 315.5L660.8 286.5" stroke="#ff2200" stroke-width="6.1" stroke-linecap="round"/>
<path d="M571.9 375.6l2.4 2.4M571.9 378.0l2.4-2.4M555.3 387.1l2.4 2.4M555.3 389.5l2.4-2.4M554.7 388.2l2.4 2.4M554.7 390.6l2.4-2.4M551.6 391.9l2.4 2.4M551.6 394.3l2.4-2.4M552.7 391.3l2.4 2.4M552.7 393.7l2.4-2.4M565.4 378.4l2.4 2.4M565.4 380.8l2.4-2.4M553.7 389.0l2.4 2.4M553.7 391.4l2.4-2.4M559.4 388.1l2.4 2.4M559.4 390.5l2.4-2.4M553.4 389.1l2.4 2.4M553.4 391.5l2.4-2.4M554.4 392.5l2.4 2.4M554.4 394.9l2.4-2.4M565.9 381.4l2.4 2.4M565.9 383.8l2.4-2.4M552.1 395.3l2.4 2.4M552.1 397.7l2.4-2.4M549.2 394.0l2.4 2.4M549.2 396.4l2.4-2.4M560.3 386.4l2.4 2.4M560.3 388.8l2.4-2.4M574.2 372.6l2.4 2.4M574.2 375.0l2.4-2.4M556.8 390.0l2.4 2.4M556.8 392.4l2.4-2.4M572.3 375.2l2.4 2.4M572.3 377.6l2.4-2.4M571.1 373.0l2.4 2.4M571.1 375.4l2.4-2.4M571.8 374.9l2.4 2.4M571.8 377.3l2.4-2.4M562.0 381.6l2.4 2.4M562.0 384.0l2.4-2.4M562.1 385.3l2.4 2.4M562.1 387.7l2.4-2.4M562.7 384.8l2.4 2.4M562.7 387.2l2.4-2.4M569.2 378.3l2.4 2.4M569.2 380.7l2.4-2.4M553.9 389.3l2.4 2.4M553.9 391.7l2.4-2.4M556.3 390.6l2.4 2.4M556.3 393.0l2.4-2.4M561.7 381.9l2.4 2.4M561.7 384.3l2.4-2.4M555.3 392.2l2.4 2.4M555.3 394.6l2.4-2.4M571.5 375.5l2.4 2.4M571.5 377.9l2.4-2.4M562.8 379.8l2.4 2.4M562.8 382.2l2.4-2.4M560.2 382.4l2.4 2.4M560.2 384.8l2.4-2.4M551.4 396.8l2.4 2.4M551.4 399.2l2.4-2.4M564.3 383.3l2.4 2.4M564.3 385.7l2.4-2.4M549.9 394.2l2.4 2.4M549.9 396.6l2.4-2.4M555.6 387.1l2.4 2.4M555.6 389.5l2.4-2.4M562.3 384.8l2.4 2.4M562.3 387.2l2.4-2.4M554.1 388.8l2.4 2.4M554.1 391.2l2.4-2.4M569.0 375.0l2.4 2.4M569.0 377.4l2.4-2.4M558.1 384.8l2.4 2.4M558.1 387.2l2.4-2.4M567.1 379.5l2.4 2.4M567.1 381.9l2.4-2.4M568.4 378.2l2.4 2.4M568.4 380.6l2.4-2.4M560.9 385.5l2.4 2.4M560.9 387.9l2.4-2.4M559.9 386.7l2.4 2.4M559.9 389.1l2.4-2.4M561.9 381.5l2.4 2.4M561.9 383.9l2.4-2.4M552.3 395.4l2.4 2.4M552.3 397.8l2.4-2.4M567.6 379.3l2.4 2.4M567.6 381.7l2.4-2.4M581.9 366.1l2.4 2.4M581.9 368.5l2.4-2.4M579.9 367.9l2.4 2.4M579.9 370.3l2.4-2.4M593.9 353.3l2.4 2.4M593.9 355.7l2.4-2.4M598.3 350.1l2.4 2.4M598.3 352.5l2.4-2.4M607.4 340.5l2.4 2.4M607.4 342.9l2.4-2.4M597.4 350.4l2.4 2.4M597.4 352.8l2.4-2.4M619.6 328.2l2.4 2.4M619.6 330.6l2.4-2.4M589.2 358.8l2.4 2.4M589.2 361.2l2.4-2.4M594.4 346.5l2.4 2.4M594.4 348.9l2.4-2.4M598.3 342.2l2.4 2.4M598.3 344.6l2.4-2.4M610.8 331.1l2.4 2.4M610.8 333.5l2.4-2.4M596.6 350.6l2.4 2.4M596.6 353.0l2.4-2.4M587.5 353.7l2.4 2.4M587.5 356.1l2.4-2.4M601.4 340.0l2.4 2.4M601.4 342.4l2.4-2.4M607.3 340.3l2.4 2.4M607.3 342.7l2.4-2.4M595.9 352.5l2.4 2.4M595.9 354.9l2.4-2.4M619.7 328.8l2.4 2.4M619.7 331.2l2.4-2.4M615.9 331.2l2.4 2.4M615.9 333.6l2.4-2.4M590.2 351.3l2.4 2.4M590.2 353.7l2.4-2.4M620.7 320.9l2.4 2.4M620.7 323.3l2.4-2.4M618.9 328.7l2.4 2.4M618.9 331.1l2.4-2.4M606.9 335.3l2.4 2.4M606.9 337.7l2.4-2.4M583.3 363.9l2.4 2.4M583.3 366.3l2.4-2.4M589.7 351.8l2.4 2.4M589.7 354.2l2.4-2.4M611.5 330.1l2.4 2.4M611.5 332.5l2.4-2.4M597.9 344.1l2.4 2.4M597.9 346.5l2.4-2.4M583.5 357.9l2.4 2.4M583.5 360.3l2.4-2.4M600.7 347.2l2.4 2.4M600.7 349.6l2.4-2.4M624.1 323.1l2.4 2.4M624.1 325.5l2.4-2.4M595.9 351.4l2.4 2.4M595.9 353.8l2.4-2.4M620.1 321.1l2.4 2.4M620.1 323.5l2.4-2.4M617.8 323.2l2.4 2.4M617.8 325.6l2.4-2.4M579.0 369.2l2.4 2.4M579.0 371.6l2.4-2.4M595.7 353.2l2.4 2.4M595.7 355.6l2.4-2.4M624.9 323.6l2.4 2.4M624.9 326.0l2.4-2.4M587.0 355.1l2.4 2.4M587.0 357.5l2.4-2.4M600.0 341.6l2.4 2.4M600.0 344.0l2.4-2.4M590.3 350.7l2.4 2.4M590.3 353.1l2.4-2.4M584.7 357.2l2.4 2.4M584.7 359.6l2.4-2.4M615.4 325.6l2.4 2.4M615.4 328.0l2.4-2.4M589.1 359.5l2.4 2.4M589.1 361.9l2.4-2.4M626.8 321.1l2.4 2.4M626.8 323.5l2.4-2.4M586.3 354.8l2.4 2.4M586.3 357.2l2.4-2.4M573.5 368.7l2.4 2.4M573.5 371.1l2.4-2.4M623.9 317.8l2.4 2.4M623.9 320.2l2.4-2.4M593.4 348.1l2.4 2.4M593.4 350.5l2.4-2.4M590.8 351.4l2.4 2.4M590.8 353.8l2.4-2.4M573.5 367.3l2.4 2.4M573.5 369.7l2.4-2.4M603.8 337.0l2.4 2.4M603.8 339.4l2.4-2.4M622.5 319.0l2.4 2.4M622.5 321.4l2.4-2.4M591.7 350.5l2.4 2.4M591.7 352.9l2.4-2.4M615.7 332.8l2.4 2.4M615.7 335.2l2.4-2.4M607.5 333.7l2.4 2.4M607.5 336.1l2.4-2.4M579.1 369.6l2.4 2.4M579.1 372.0l2.4-2.4M621.5 318.9l2.4 2.4M621.5 321.3l2.4-2.4M597.3 351.1l2.4 2.4M597.3 353.5l2.4-2.4M587.5 354.2l2.4 2.4M587.5 356.6l2.4-2.4M630.9 317.2l2.4 2.4M630.9 319.6l2.4-2.4M587.0 354.0l2.4 2.4M587.0 356.4l2.4-2.4M588.9 359.9l2.4 2.4M588.9 362.3l2.4-2.4M630.7 316.7l2.4 2.4M630.7 319.1l2.4-2.4M603.4 344.9l2.4 2.4M603.4 347.3l2.4-2.4M604.0 337.8l2.4 2.4M604.0 340.2l2.4-2.4M580.9 366.8l2.4 2.4M580.9 369.2l2.4-2.4M612.4 328.5l2.4 2.4M612.4 330.9l2.4-2.4M629.7 317.5l2.4 2.4M629.7 319.9l2.4-2.4M607.0 333.8l2.4 2.4M607.0 336.2l2.4-2.4M588.8 353.0l2.4 2.4M588.8 355.4l2.4-2.4M614.7 327.1l2.4 2.4M614.7 329.5l2.4-2.4M585.9 355.2l2.4 2.4M585.9 357.6l2.4-2.4M627.8 320.9l2.4 2.4M627.8 323.3l2.4-2.4M631.9 316.8l2.4 2.4M631.9 319.2l2.4-2.4M589.5 351.9l2.4 2.4M589.5 354.3l2.4-2.4M613.5 333.8l2.4 2.4M613.5 336.2l2.4-2.4M621.6 320.5l2.4 2.4M621.6 322.9l2.4-2.4M586.5 355.3l2.4 2.4M586.5 357.7l2.4-2.4M607.8 333.1l2.4 2.4M607.8 335.5l2.4-2.4M590.1 350.6l2.4 2.4M590.1 353.0l2.4-2.4M586.9 361.3l2.4 2.4M586.9 363.7l2.4-2.4M599.2 349.0l2.4 2.4M599.2 351.4l2.4-2.4M622.1 325.1l2.4 2.4M622.1 327.5l2.4-2.4M593.6 348.3l2.4 2.4M593.6 350.7l2.4-2.4M585.7 362.4l2.4 2.4M585.7 364.8l2.4-2.4M614.5 333.1l2.4 2.4M614.5 335.5l2.4-2.4M587.2 354.0l2.4 2.4M587.2 356.4l2.4-2.4M597.3 349.9l2.4 2.4M597.3 352.3l2.4-2.4M616.1 332.5l2.4 2.4M616.1 334.9l2.4-2.4M582.7 358.3l2.4 2.4M582.7 360.7l2.4-2.4M631.7 316.1l2.4 2.4M631.7 318.5l2.4-2.4M623.7 318.2l2.4 2.4M623.7 320.6l2.4-2.4M575.4 365.5l2.4 2.4M575.4 367.9l2.4-2.4M619.9 321.9l2.4 2.4M619.9 324.3l2.4-2.4M612.7 328.1l2.4 2.4M612.7 330.5l2.4-2.4M627.5 313.4l2.4 2.4M627.5 315.8l2.4-2.4M583.9 357.0l2.4 2.4M583.9 359.4l2.4-2.4M583.8 364.9l2.4 2.4M583.8 367.3l2.4-2.4M603.2 337.5l2.4 2.4M603.2 339.9l2.4-2.4M599.6 348.1l2.4 2.4M599.6 350.5l2.4-2.4M576.1 371.6l2.4 2.4M576.1 374.0l2.4-2.4M594.9 347.0l2.4 2.4M594.9 349.4l2.4-2.4M599.3 342.0l2.4 2.4M599.3 344.4l2.4-2.4M606.6 340.6l2.4 2.4M606.6 343.0l2.4-2.4M622.5 318.4l2.4 2.4M622.5 320.8l2.4-2.4M572.1 369.4l2.4 2.4M572.1 371.8l2.4-2.4M661.3 287.2l2.4 2.4M661.3 289.6l2.4-2.4M643.8 303.8l2.4 2.4M643.8 306.2l2.4-2.4M652.6 289.5l2.4 2.4M652.6 291.9l2.4-2.4M635.7 306.9l2.4 2.4M635.7 309.3l2.4-2.4M659.6 288.9l2.4 2.4M659.6 291.3l2.4-2.4M644.6 302.6l2.4 2.4M644.6 305.0l2.4-2.4M632.9 315.0l2.4 2.4M632.9 317.4l2.4-2.4M648.9 293.5l2.4 2.4M648.9 295.9l2.4-2.4M651.5 291.5l2.4 2.4M651.5 293.9l2.4-2.4M645.1 301.8l2.4 2.4M645.1 304.2l2.4-2.4M639.5 302.1l2.4 2.4M639.5 304.5l2.4-2.4M652.3 290.1l2.4 2.4M652.3 292.5l2.4-2.4M655.7 292.8l2.4 2.4M655.7 295.2l2.4-2.4M643.5 299.2l2.4 2.4M643.5 301.6l2.4-2.4M657.9 288.9l2.4 2.4M657.9 291.3l2.4-2.4M633.5 309.0l2.4 2.4M633.5 311.4l2.4-2.4M639.7 302.0l2.4 2.4M639.7 304.4l2.4-2.4M640.0 302.5l2.4 2.4M640.0 304.9l2.4-2.4M637.3 304.8l2.4 2.4M637.3 307.2l2.4-2.4M639.9 308.3l2.4 2.4M639.9 310.7l2.4-2.4M638.2 309.6l2.4 2.4M638.2 312.0l2.4-2.4M651.6 295.8l2.4 2.4M651.6 298.2l2.4-2.4M633.9 308.6l2.4 2.4M633.9 311.0l2.4-2.4M644.4 303.1l2.4 2.4M644.4 305.5l2.4-2.4M633.4 314.0l2.4 2.4M633.4 316.4l2.4-2.4M647.1 299.7l2.4 2.4M647.1 302.1l2.4-2.4M637.3 310.9l2.4 2.4M637.3 313.3l2.4-2.4M632.5 309.9l2.4 2.4M632.5 312.3l2.4-2.4M659.9 287.8l2.4 2.4M659.9 290.2l2.4-2.4M654.9 293.4l2.4 2.4M654.9 295.8l2.4-2.4M630.9 310.5l2.4 2.4M630.9 312.9l2.4-2.4M641.6 306.6l2.4 2.4M641.6 309.0l2.4-2.4M646.9 300.2l2.4 2.4M646.9 302.6l2.4-2.4M647.3 294.2l2.4 2.4M647.3 296.6l2.4-2.4M630.5 311.0l2.4 2.4M630.5 313.4l2.4-2.4M654.0 288.1l2.4 2.4M654.0 290.5l2.4-2.4M648.1 298.9l2.4 2.4M648.1 301.3l2.4-2.4M650.7 291.6l2.4 2.4M650.7 294.0l2.4-2.4M642.8 299.4l2.4 2.4M642.8 301.8l2.4-2.4M642.9 304.8l2.4 2.4M642.9 307.2l2.4-2.4M630.3 312.1l2.4 2.4M630.3 314.5l2.4-2.4M649.6 298.9l2.4 2.4M649.6 301.3l2.4-2.4M633.8 308.7l2.4 2.4M633.8 311.1l2.4-2.4M637.0 305.8l2.4 2.4M637.0 308.2l2.4-2.4M643.3 299.8l2.4 2.4M643.3 302.2l2.4-2.4M657.6 285.2l2.4 2.4M657.6 287.6l2.4-2.4M637.7 310.6l2.4 2.4M637.7 313.0l2.4-2.4M651.9 289.4l2.4 2.4M651.9 291.8l2.4-2.4M634.1 314.0l2.4 2.4M634.1 316.4l2.4-2.4M636.6 305.7l2.4 2.4M636.6 308.1l2.4-2.4M645.1 297.7l2.4 2.4M645.1 300.1l2.4-2.4M639.7 307.2l2.4 2.4M639.7 309.6l2.4-2.4M645.0 296.5l2.4 2.4M645.0 298.9l2.4-2.4M556.7 389.2l2.4 2.4M556.7 391.6l2.4-2.4M601.7 338.7l2.4 2.4M601.7 341.1l2.4-2.4M656.4 286.5l2.4 2.4M656.4 288.9l2.4-2.4M553.5 387.5l2.4 2.4M553.5 389.9l2.4-2.4M568.9 377.4l2.4 2.4M568.9 379.8l2.4-2.4M583.0 356.7l2.4 2.4M583.0 359.1l2.4-2.4M573.9 373.3l2.4 2.4M573.9 375.7l2.4-2.4M581.8 365.7l2.4 2.4M581.8 368.1l2.4-2.4M550.8 392.5l2.4 2.4M550.8 394.9l2.4-2.4M625.8 321.3l2.4 2.4M625.8 323.7l2.4-2.4M557.7 386.6l2.4 2.4M557.7 389.0l2.4-2.4M621.8 324.7l2.4 2.4M621.8 327.1l2.4-2.4M655.6 289.3l2.4 2.4M655.6 291.7l2.4-2.4M660.3 291.0l2.4 2.4M660.3 293.4l2.4-2.4M591.9 355.6l2.4 2.4M591.9 358.0l2.4-2.4M640.3 305.6l2.4 2.4M640.3 308.0l2.4-2.4M656.2 292.4l2.4 2.4M656.2 294.8l2.4-2.4M621.7 322.5l2.4 2.4M621.7 324.9l2.4-2.4M633.3 309.8l2.4 2.4M633.3 312.2l2.4-2.4M567.6 377.8l2.4 2.4M567.6 380.2l2.4-2.4" stroke="#ff2200" stroke-width="1"/>
<path d="M621.1 333.3L625.1 330.2L630.7 325.8" stroke="#ff2200" stroke-width="7.0" stroke-linecap="round" stroke-linejoin="round"/>
<path d="M619.4 332.9L623.7 329.8L630.7 324.1L638.6 317.5L645.2 313.1" stroke="#ff2200" stroke-width="5.0" stroke-linecap="round" stroke-linejoin="round"/>
<path d="M620.7 332.7l2.4 2.4M620.7 335.1l2.4-2.4M621.6 330.9l2.4 2.4M621.6 333.3l2.4-2.4M617.1 330.1l2.4 2.4M617.1 332.5l2.4-2.4M622.6 331.2l2.4 2.4M622.6 333.6l2.4-2.4M620.9 328.5l2.4 2.4M620.9 330.9l2.4-2.4M621.7 330.9l2.4 2.4M621.7 333.3l2.4-2.4M621.7 331.1l2.4 2.4M621.7 333.5l2.4-2.4M619.6 329.0l2.4 2.4M619.6 331.4l2.4-2.4M626.5 323.4l2.4 2.4M626.5 325.8l2.4-2.4M622.0 326.2l2.4 2.4M622.0 328.6l2.4-2.4M623.4 325.5l2.4 2.4M623.4 327.9l2.4-2.4M626.6 327.1l2.4 2.4M626.6 329.5l2.4-2.4M626.8 323.2l2.4 2.4M626.8 325.6l2.4-2.4M623.8 329.3l2.4 2.4M623.8 331.7l2.4-2.4M627.4 326.3l2.4 2.4M627.4 328.7l2.4-2.4M626.9 324.0l2.4 2.4M626.9 326.4l2.4-2.4M626.1 327.6l2.4 2.4M626.1 330.0l2.4-2.4M623.2 325.4l2.4 2.4M623.2 327.8l2.4-2.4M627.4 322.4l2.4 2.4M627.4 324.8l2.4-2.4M622.6 327.3l2.4 2.4M622.6 329.7l2.4-2.4M625.6 327.2l2.4 2.4M625.6 329.6l2.4-2.4M635.7 320.8l2.4 2.4M635.7 323.2l2.4-2.4M634.8 316.1l2.4 2.4M634.8 318.5l2.4-2.4M629.9 320.8l2.4 2.4M629.9 323.2l2.4-2.4M634.2 321.0l2.4 2.4M634.2 323.4l2.4-2.4M633.2 316.8l2.4 2.4M633.2 319.2l2.4-2.4M638.2 317.6l2.4 2.4M638.2 320.0l2.4-2.4M629.8 319.5l2.4 2.4M629.8 321.9l2.4-2.4M631.3 323.9l2.4 2.4M631.3 326.3l2.4-2.4M634.7 316.4l2.4 2.4M634.7 318.8l2.4-2.4M635.0 320.1l2.4 2.4M635.0 322.5l2.4-2.4M631.3 322.7l2.4 2.4M631.3 325.1l2.4-2.4M635.1 316.8l2.4 2.4M635.1 319.2l2.4-2.4M635.9 320.0l2.4 2.4M635.9 322.4l2.4-2.4M638.5 318.1l2.4 2.4M638.5 320.5l2.4-2.4M631.2 322.9l2.4 2.4M631.2 325.3l2.4-2.4M641.2 316.6l2.4 2.4M641.2 319.0l2.4-2.4M642.8 311.5l2.4 2.4M642.8 313.9l2.4-2.4M639.0 312.8l2.4 2.4M639.0 315.2l2.4-2.4M637.5 315.1l2.4 2.4M637.5 317.5l2.4-2.4M638.1 313.9l2.4 2.4M638.1 316.3l2.4-2.4M640.6 316.6l2.4 2.4M640.6 319.0l2.4-2.4M639.9 316.5l2.4 2.4M639.9 318.9l2.4-2.4M644.5 312.8l2.4 2.4M644.5 315.2l2.4-2.4M636.9 314.0l2.4 2.4M636.9 316.4l2.4-2.4M637.5 315.0l2.4 2.4M637.5 317.4l2.4-2.4M640.3 312.6l2.4 2.4M640.3 315.0l2.4-2.4" stroke="#ff2200" stroke-width="1"/>
<path d="M628.1 323.7L632.1 318.8" stroke="#0b30ff" stroke-width="2.2"/>
<path d="M501.1 448.1L676.3 272.2" stroke="#000" stroke-width="1.15"/>
</g>
<rect x="501.10" y="272.20" width="175.20" height="175.90" fill="none" stroke="#0a0a0a" stroke-width="1.35"/>
<text x="500.80" y="284.20" font-family="'Liberation Serif', serif" font-size="10.5" text-anchor="start" fill="#111">MOMT</text>
<text x="533.70" y="294.60" font-family="'Liberation Serif', serif" font-size="10.5" text-anchor="end" fill="#111">Tens</text>
<path d="M554.30 280.40h2.2M555.40 279.30v2.2" stroke="#2448ff" stroke-width="1"/>
<path d="M554.20 290.40l2.4 2.4M554.20 292.80l2.4-2.4" stroke="#ff3f1f" stroke-width="0.9"/>
<text x="526.30" y="243.10" font-family="'Liberation Sans', sans-serif" font-size="12" fill="#111">MAE (<tspan font-style="italic">σ</tspan>) = 111.2 MPa</text>
<text x="514.00" y="262.80" font-family="'Liberation Sans', sans-serif" font-size="12" fill="#111">MAE<tspan font-size="7.6" dx="0.6" dy="0.8">Ten</tspan><tspan dy="-0.8"> (</tspan><tspan font-style="italic">σ</tspan>) = 180.8 MPa</text>
<text x="545.10" y="481.00" font-family="'Liberation Sans', sans-serif" font-size="16.3" fill="#111"><tspan font-style="italic">σ</tspan><tspan font-style="italic" font-size="10.6" dy="1.3">DFT</tspan><tspan dy="-1.3"> (GPa)</tspan></text>
<text transform="translate(472.80,418.40) rotate(-90)" font-family="'Liberation Sans', sans-serif" font-size="16.5" fill="#111"><tspan font-style="italic">σ</tspan><tspan font-style="italic" font-size="10.8" dy="1.2">NNP+Coul</tspan><tspan dy="-1.2"> (GPa)</tspan></text>
<clipPath id="cc1"><rect x="56.5" y="544.6" width="177.6" height="177.29999999999995"/></clipPath>
<text x="57.30" y="736.60" font-family="'Liberation Serif', serif" font-size="10" text-anchor="middle" fill="#111">-3991.4</text>
<text x="50.20" y="725.30" font-family="'Liberation Serif', serif" font-size="10" text-anchor="end" fill="#111">-3991.4</text>
<text x="92.82" y="736.60" font-family="'Liberation Serif', serif" font-size="10" text-anchor="middle" fill="#111">-3991.2</text>
<text x="50.20" y="689.84" font-family="'Liberation Serif', serif" font-size="10" text-anchor="end" fill="#111">-3991.2</text>
<text x="128.34" y="736.60" font-family="'Liberation Serif', serif" font-size="10" text-anchor="middle" fill="#111">-3991</text>
<text x="50.20" y="654.38" font-family="'Liberation Serif', serif" font-size="10" text-anchor="end" fill="#111">-3991</text>
<text x="163.86" y="736.60" font-family="'Liberation Serif', serif" font-size="10" text-anchor="middle" fill="#111">-3990.8</text>
<text x="50.20" y="618.92" font-family="'Liberation Serif', serif" font-size="10" text-anchor="end" fill="#111">-3990.8</text>
<text x="199.38" y="736.60" font-family="'Liberation Serif', serif" font-size="10" text-anchor="middle" fill="#111">-3990.6</text>
<text x="50.20" y="583.46" font-family="'Liberation Serif', serif" font-size="10" text-anchor="end" fill="#111">-3990.6</text>
<text x="234.90" y="736.60" font-family="'Liberation Serif', serif" font-size="10" text-anchor="middle" fill="#111">-3990.4</text>
<text x="50.20" y="548.00" font-family="'Liberation Serif', serif" font-size="10" text-anchor="end" fill="#111">-3990.4</text>
<path d="M56.50 721.9v-3.0M56.50 544.6v3.0M56.5 721.90h3.0M234.1 721.90h-3.0M92.02 721.9v-3.0M92.02 544.6v3.0M56.5 686.44h3.0M234.1 686.44h-3.0M127.54 721.9v-3.0M127.54 544.6v3.0M56.5 650.98h3.0M234.1 650.98h-3.0M163.06 721.9v-3.0M163.06 544.6v3.0M56.5 615.52h3.0M234.1 615.52h-3.0M198.58 721.9v-3.0M198.58 544.6v3.0M56.5 580.06h3.0M234.1 580.06h-3.0M234.10 721.9v-3.0M234.10 544.6v3.0M56.5 544.60h3.0M234.1 544.60h-3.0" stroke="#0a0a0a" stroke-width="0.9"/>
<g clip-path="url(#cc1)" fill="none">
<path d="M127.3 650.8L152.2 625.9" stroke="#0b30ff" stroke-width="4.5" stroke-linecap="round"/>
<path d="M152.3 626.0L187.8 590.6" stroke="#0b30ff" stroke-width="3.2" stroke-linecap="round"/>
<path d="M142.2 636.3h2.2M143.3 635.2v2.2M127.6 651.6h2.2M128.7 650.5v2.2M128.5 647.6h2.2M129.6 646.5v2.2M140.2 638.3h2.2M141.3 637.2v2.2M139.2 639.2h2.2M140.3 638.1v2.2M134.3 643.9h2.2M135.4 642.8v2.2M128.4 647.3h2.2M129.5 646.2v2.2M139.3 639.5h2.2M140.4 638.4v2.2M139.4 639.0h2.2M140.5 637.9v2.2M133.1 642.8h2.2M134.2 641.7v2.2M127.6 648.0h2.2M128.7 646.9v2.2M141.6 633.9h2.2M142.7 632.8v2.2M128.0 650.0h2.2M129.1 648.9v2.2M135.0 640.6h2.2M136.1 639.5v2.2M132.8 646.2h2.2M133.9 645.1v2.2M126.2 649.2h2.2M127.3 648.1v2.2M130.9 644.0h2.2M132.0 642.9v2.2M135.9 641.9h2.2M137.0 640.8v2.2M141.7 636.7h2.2M142.8 635.6v2.2M140.0 634.8h2.2M141.1 633.7v2.2M132.1 646.2h2.2M133.2 645.1v2.2M138.2 638.0h2.2M139.3 636.9v2.2M127.6 647.6h2.2M128.7 646.5v2.2M145.4 629.8h2.2M146.5 628.7v2.2M136.1 642.1h2.2M137.2 641.0v2.2M143.9 634.6h2.2M145.0 633.5v2.2M131.2 644.5h2.2M132.3 643.4v2.2M135.2 644.0h2.2M136.3 642.9v2.2M143.5 636.1h2.2M144.6 635.0v2.2M137.5 637.7h2.2M138.6 636.6v2.2M139.0 636.1h2.2M140.1 635.0v2.2M152.4 625.7h2.2M153.5 624.6v2.2M151.0 625.5h2.2M152.1 624.4v2.2M175.4 602.1h2.2M176.5 601.0v2.2M154.4 623.4h2.2M155.5 622.3v2.2M166.4 609.5h2.2M167.5 608.4v2.2M167.7 610.9h2.2M168.8 609.8v2.2M184.6 591.5h2.2M185.7 590.4v2.2M171.2 607.2h2.2M172.3 606.1v2.2M166.1 612.7h2.2M167.2 611.6v2.2M158.4 618.3h2.2M159.5 617.2v2.2M156.3 621.2h2.2M157.4 620.1v2.2M160.9 616.3h2.2M162.0 615.2v2.2M166.3 610.5h2.2M167.4 609.4v2.2M175.7 600.7h2.2M176.8 599.6v2.2M175.2 601.1h2.2M176.3 600.0v2.2M168.9 609.6h2.2M170.0 608.5v2.2M163.0 614.8h2.2M164.1 613.7v2.2M156.7 619.9h2.2M157.8 618.8v2.2M179.3 597.2h2.2M180.4 596.1v2.2M171.8 604.8h2.2M172.9 603.7v2.2M171.3 604.7h2.2M172.4 603.6v2.2M165.8 612.6h2.2M166.9 611.5v2.2M159.2 617.4h2.2M160.3 616.3v2.2M166.0 611.7h2.2M167.1 610.6v2.2M153.1 623.4h2.2M154.2 622.3v2.2M175.8 599.8h2.2M176.9 598.7v2.2M154.3 624.5h2.2M155.4 623.4v2.2M183.1 593.4h2.2M184.2 592.3v2.2M156.0 622.5h2.2M157.1 621.4v2.2M154.4 622.0h2.2M155.5 620.9v2.2M156.0 620.2h2.2M157.1 619.1v2.2M170.3 606.0h2.2M171.4 604.9v2.2M166.3 609.5h2.2M167.4 608.4v2.2M154.8 622.7h2.2M155.9 621.6v2.2M158.1 618.8h2.2M159.2 617.7v2.2M179.1 599.7h2.2M180.2 598.6v2.2M183.7 592.9h2.2M184.8 591.8v2.2M184.4 591.8h2.2M185.5 590.7v2.2M180.6 596.5h2.2M181.7 595.4v2.2M164.3 613.8h2.2M165.4 612.7v2.2M159.9 616.8h2.2M161.0 615.7v2.2M170.7 605.7h2.2M171.8 604.6v2.2M160.2 615.7h2.2M161.3 614.6v2.2M185.4 593.3h2.2M186.5 592.2v2.2M157.4 620.9h2.2M158.5 619.8v2.2M161.2 616.6h2.2M162.3 615.5v2.2M173.9 606.3h2.2M175.0 605.2v2.2M184.0 594.1h2.2M185.1 593.0v2.2M175.0 602.5h2.2M176.1 601.4v2.2M184.5 592.4h2.2M185.6 591.3v2.2M150.0 627.2h2.2M151.1 626.1v2.2M156.2 622.6h2.2M157.3 621.5v2.2M150.9 627.2h2.2M152.0 626.1v2.2M160.9 620.9h2.2M162.0 619.8v2.2M162.8 615.5h2.2M163.9 614.4v2.2M185.0 591.4h2.2M186.1 590.3v2.2M133.6 641.3h2.2M134.7 640.2v2.2M133.0 645.4h2.2M134.1 644.3v2.2M181.7 593.9h2.2M182.8 592.8v2.2M134.7 641.3h2.2M135.8 640.2v2.2M188.6 590.3h2.2M189.7 589.2v2.2M130.2 643.8h2.2M131.3 642.7v2.2M168.2 608.8h2.2M169.3 607.7v2.2M162.6 614.7h2.2M163.7 613.6v2.2M188.3 590.7h2.2M189.4 589.6v2.2M177.3 603.6h2.2M178.4 602.5v2.2M158.7 616.8h2.2M159.8 615.7v2.2M138.8 637.6h2.2M139.9 636.5v2.2M160.7 618.1h2.2M161.8 617.0v2.2M139.3 636.4h2.2M140.4 635.3v2.2M171.7 607.6h2.2M172.8 606.5v2.2M132.4 643.9h2.2M133.5 642.8v2.2M159.9 622.2h2.2M161.0 621.1v2.2M163.0 616.2h2.2M164.1 615.1v2.2M136.6 641.3h2.2M137.7 640.2v2.2M192.4 584.4h2.2M193.5 583.3v2.2M193.8 581.7h2.2M194.9 580.6v2.2M194.9 583.0h2.2M196.0 581.9v2.2M194.1 583.3h2.2M195.2 582.2v2.2M191.0 586.6h2.2M192.1 585.5v2.2" stroke="#0b30ff" stroke-width="1"/>
<path d="M85.2 692.1L125.2 652.2" stroke="#ff2200" stroke-width="5.0" stroke-linecap="round"/>
<path d="M106.3 666.0l2.4 2.4M106.3 668.4l2.4-2.4M88.8 688.8l2.4 2.4M88.8 691.2l2.4-2.4M86.1 690.4l2.4 2.4M86.1 692.8l2.4-2.4M97.0 679.8l2.4 2.4M97.0 682.2l2.4-2.4M91.1 686.1l2.4 2.4M91.1 688.5l2.4-2.4M105.4 670.7l2.4 2.4M105.4 673.1l2.4-2.4M88.1 689.5l2.4 2.4M88.1 691.9l2.4-2.4M116.5 656.8l2.4 2.4M116.5 659.2l2.4-2.4M92.2 681.5l2.4 2.4M92.2 683.9l2.4-2.4M114.2 659.5l2.4 2.4M114.2 661.9l2.4-2.4M97.8 675.1l2.4 2.4M97.8 677.5l2.4-2.4M99.4 678.2l2.4 2.4M99.4 680.6l2.4-2.4M101.3 675.1l2.4 2.4M101.3 677.5l2.4-2.4M93.4 680.0l2.4 2.4M93.4 682.4l2.4-2.4M121.5 655.0l2.4 2.4M121.5 657.4l2.4-2.4M109.1 663.7l2.4 2.4M109.1 666.1l2.4-2.4M107.7 668.7l2.4 2.4M107.7 671.1l2.4-2.4M92.3 680.6l2.4 2.4M92.3 683.0l2.4-2.4M114.7 662.5l2.4 2.4M114.7 664.9l2.4-2.4M116.3 660.0l2.4 2.4M116.3 662.4l2.4-2.4M115.5 661.4l2.4 2.4M115.5 663.8l2.4-2.4M86.7 690.0l2.4 2.4M86.7 692.4l2.4-2.4M99.7 678.0l2.4 2.4M99.7 680.4l2.4-2.4M100.4 676.4l2.4 2.4M100.4 678.8l2.4-2.4M111.7 665.0l2.4 2.4M111.7 667.4l2.4-2.4M114.3 658.0l2.4 2.4M114.3 660.4l2.4-2.4M107.5 669.4l2.4 2.4M107.5 671.8l2.4-2.4M117.4 658.9l2.4 2.4M117.4 661.3l2.4-2.4M86.3 690.5l2.4 2.4M86.3 692.9l2.4-2.4M91.1 685.3l2.4 2.4M91.1 687.7l2.4-2.4M120.5 657.2l2.4 2.4M120.5 659.6l2.4-2.4M98.4 678.0l2.4 2.4M98.4 680.4l2.4-2.4M113.3 663.1l2.4 2.4M113.3 665.5l2.4-2.4M90.7 686.8l2.4 2.4M90.7 689.2l2.4-2.4M112.2 661.0l2.4 2.4M112.2 663.4l2.4-2.4M112.4 661.2l2.4 2.4M112.4 663.6l2.4-2.4M120.0 657.3l2.4 2.4M120.0 659.7l2.4-2.4M111.9 664.7l2.4 2.4M111.9 667.1l2.4-2.4M92.2 684.4l2.4 2.4M92.2 686.8l2.4-2.4M103.7 668.9l2.4 2.4M103.7 671.3l2.4-2.4M105.8 670.5l2.4 2.4M105.8 672.9l2.4-2.4M94.3 683.3l2.4 2.4M94.3 685.7l2.4-2.4M123.7 652.7l2.4 2.4M123.7 655.1l2.4-2.4M98.1 678.5l2.4 2.4M98.1 680.9l2.4-2.4M114.8 658.4l2.4 2.4M114.8 660.8l2.4-2.4M122.9 650.1l2.4 2.4M122.9 652.5l2.4-2.4M90.3 681.9l2.4 2.4M90.3 684.3l2.4-2.4M84.0 688.9l2.4 2.4M84.0 691.3l2.4-2.4M96.0 680.4l2.4 2.4M96.0 682.8l2.4-2.4M114.8 662.9l2.4 2.4M114.8 665.3l2.4-2.4M83.8 688.7l2.4 2.4M83.8 691.1l2.4-2.4M104.9 671.9l2.4 2.4M104.9 674.3l2.4-2.4M92.1 684.3l2.4 2.4M92.1 686.7l2.4-2.4M122.1 651.3l2.4 2.4M122.1 653.7l2.4-2.4M107.6 665.1l2.4 2.4M107.6 667.5l2.4-2.4M93.3 680.1l2.4 2.4M93.3 682.5l2.4-2.4M88.8 684.2l2.4 2.4M88.8 686.6l2.4-2.4M108.4 667.0l2.4 2.4M108.4 669.4l2.4-2.4M102.2 668.9l2.4 2.4M102.2 671.3l2.4-2.4M113.5 664.4l2.4 2.4M113.5 666.8l2.4-2.4M112.6 665.1l2.4 2.4M112.6 667.5l2.4-2.4M105.0 673.7l2.4 2.4M105.0 676.1l2.4-2.4M116.6 660.1l2.4 2.4M116.6 662.5l2.4-2.4M123.5 652.6l2.4 2.4M123.5 655.0l2.4-2.4M99.5 673.7l2.4 2.4M99.5 676.1l2.4-2.4M113.9 662.7l2.4 2.4M113.9 665.1l2.4-2.4M109.3 663.9l2.4 2.4M109.3 666.3l2.4-2.4M83.8 692.2l2.4 2.4M83.8 694.6l2.4-2.4M115.0 660.1l2.4 2.4M115.0 662.5l2.4-2.4M118.2 658.6l2.4 2.4M118.2 661.0l2.4-2.4M112.6 664.8l2.4 2.4M112.6 667.2l2.4-2.4M102.0 676.5l2.4 2.4M102.0 678.9l2.4-2.4M107.5 667.7l2.4 2.4M107.5 670.1l2.4-2.4M86.2 690.0l2.4 2.4M86.2 692.4l2.4-2.4M84.8 688.2l2.4 2.4M84.8 690.6l2.4-2.4M88.3 684.8l2.4 2.4M88.3 687.2l2.4-2.4M85.3 689.6l2.4 2.4M85.3 692.0l2.4-2.4M94.2 678.9l2.4 2.4M94.2 681.3l2.4-2.4M99.9 674.6l2.4 2.4M99.9 677.0l2.4-2.4M84.7 689.7l2.4 2.4M84.7 692.1l2.4-2.4M86.5 686.4l2.4 2.4M86.5 688.8l2.4-2.4M98.0 676.6l2.4 2.4M98.0 679.0l2.4-2.4M119.8 655.2l2.4 2.4M119.8 657.6l2.4-2.4M90.3 686.0l2.4 2.4M90.3 688.4l2.4-2.4M103.6 669.4l2.4 2.4M103.6 671.8l2.4-2.4M123.6 653.3l2.4 2.4M123.6 655.7l2.4-2.4M103.3 674.0l2.4 2.4M103.3 676.4l2.4-2.4M96.2 679.4l2.4 2.4M96.2 681.8l2.4-2.4M94.2 681.8l2.4 2.4M94.2 684.2l2.4-2.4M114.5 661.0l2.4 2.4M114.5 663.4l2.4-2.4M120.1 653.7l2.4 2.4M120.1 656.1l2.4-2.4M89.6 688.2l2.4 2.4M89.6 690.6l2.4-2.4M85.0 689.8l2.4 2.4M85.0 692.2l2.4-2.4M116.6 656.3l2.4 2.4M116.6 658.7l2.4-2.4M103.7 672.2l2.4 2.4M103.7 674.6l2.4-2.4M111.1 664.9l2.4 2.4M111.1 667.3l2.4-2.4M124.1 652.7l2.4 2.4M124.1 655.1l2.4-2.4" stroke="#ff2200" stroke-width="1"/>
<path d="M56.5 721.9L234.1 544.6" stroke="#000" stroke-width="1.15"/>
</g>
<rect x="56.50" y="544.60" width="177.60" height="177.30" fill="none" stroke="#0a0a0a" stroke-width="1.35"/>
<text x="56.20" y="556.60" font-family="'Liberation Serif', serif" font-size="10.5" text-anchor="start" fill="#111">MOMT</text>
<text x="89.10" y="567.00" font-family="'Liberation Serif', serif" font-size="10.5" text-anchor="end" fill="#111">Tens</text>
<path d="M109.70 552.80h2.2M110.80 551.70v2.2" stroke="#2448ff" stroke-width="1"/>
<path d="M109.60 562.80l2.4 2.4M109.60 565.20l2.4-2.4" stroke="#ff3f1f" stroke-width="0.9"/>
<text x="83.50" y="513.80" font-family="'Liberation Sans', sans-serif" font-size="12" fill="#111">MAE (<tspan font-style="italic">E</tspan>) = 4.09 meV/atom</text>
<text x="71.20" y="533.30" font-family="'Liberation Sans', sans-serif" font-size="12" fill="#111">MAE<tspan font-size="7.6" dx="0.6" dy="0.8">Ten</tspan><tspan dy="-0.8"> (</tspan><tspan font-style="italic">E</tspan>) = 3.68 meV/atom</text>
<text x="90.40" y="757.20" font-family="'Liberation Sans', sans-serif" font-size="16.3" fill="#111"><tspan font-style="italic">E</tspan><tspan font-style="italic" font-size="10.6" dy="1.3">DFT</tspan><tspan dy="-1.3"> (eV/atom)</tspan></text>
<text transform="translate(16.60,706.60) rotate(-90)" font-family="'Liberation Sans', sans-serif" font-size="16.5" fill="#111"><tspan font-style="italic">E</tspan><tspan font-style="italic" font-size="10.8" dy="1.2">NNP+Coul</tspan><tspan dy="-1.2"> (eV/atom)</tspan></text>
<text x="160.90" y="715.80" font-family="'Liberation Sans', sans-serif" font-size="13.3" font-weight="bold" fill="#1d3cf2">q = ±0.75</text>
<clipPath id="cc2"><rect x="284.0" y="546.6" width="175.60000000000002" height="175.39999999999998"/></clipPath>
<text x="284.80" y="736.70" font-family="'Liberation Serif', serif" font-size="10" text-anchor="middle" fill="#111">-30</text>
<text x="277.70" y="725.40" font-family="'Liberation Serif', serif" font-size="10" text-anchor="end" fill="#111">-30</text>
<text x="314.07" y="736.70" font-family="'Liberation Serif', serif" font-size="10" text-anchor="middle" fill="#111">-20</text>
<text x="277.70" y="696.17" font-family="'Liberation Serif', serif" font-size="10" text-anchor="end" fill="#111">-20</text>
<text x="343.33" y="736.70" font-family="'Liberation Serif', serif" font-size="10" text-anchor="middle" fill="#111">-10</text>
<text x="277.70" y="666.93" font-family="'Liberation Serif', serif" font-size="10" text-anchor="end" fill="#111">-10</text>
<text x="372.60" y="736.70" font-family="'Liberation Serif', serif" font-size="10" text-anchor="middle" fill="#111">0</text>
<text x="277.70" y="637.70" font-family="'Liberation Serif', serif" font-size="10" text-anchor="end" fill="#111">0</text>
<text x="401.87" y="736.70" font-family="'Liberation Serif', serif" font-size="10" text-anchor="middle" fill="#111">10</text>
<text x="277.70" y="608.47" font-family="'Liberation Serif', serif" font-size="10" text-anchor="end" fill="#111">10</text>
<text x="431.13" y="736.70" font-family="'Liberation Serif', serif" font-size="10" text-anchor="middle" fill="#111">20</text>
<text x="277.70" y="579.23" font-family="'Liberation Serif', serif" font-size="10" text-anchor="end" fill="#111">20</text>
<text x="460.40" y="736.70" font-family="'Liberation Serif', serif" font-size="10" text-anchor="middle" fill="#111">30</text>
<text x="277.70" y="550.00" font-family="'Liberation Serif', serif" font-size="10" text-anchor="end" fill="#111">30</text>
<path d="M284.00 722.0v-3.0M284.00 546.6v3.0M284.0 722.00h3.0M459.6 722.00h-3.0M313.27 722.0v-3.0M313.27 546.6v3.0M284.0 692.77h3.0M459.6 692.77h-3.0M342.53 722.0v-3.0M342.53 546.6v3.0M284.0 663.53h3.0M459.6 663.53h-3.0M371.80 722.0v-3.0M371.80 546.6v3.0M284.0 634.30h3.0M459.6 634.30h-3.0M401.07 722.0v-3.0M401.07 546.6v3.0M284.0 605.07h3.0M459.6 605.07h-3.0M430.33 722.0v-3.0M430.33 546.6v3.0M284.0 575.83h3.0M459.6 575.83h-3.0M459.60 722.0v-3.0M459.60 546.6v3.0M284.0 546.60h3.0M459.6 546.60h-3.0" stroke="#0a0a0a" stroke-width="0.9"/>
<g clip-path="url(#cc2)" fill="none">
<path d="M350.4 655.6L397.6 608.6" stroke="#0b30ff" stroke-width="3.3" stroke-linecap="round"/>
<path d="M390.3 615.1h2.2M391.4 614.0v2.2M395.3 609.1h2.2M396.4 608.0v2.2M357.4 646.2h2.2M358.5 645.1v2.2M379.2 626.9h2.2M380.3 625.8v2.2M380.3 623.6h2.2M381.4 622.5v2.2M386.0 619.9h2.2M387.1 618.8v2.2M393.6 611.0h2.2M394.7 609.9v2.2M383.0 622.3h2.2M384.1 621.2v2.2M357.2 648.3h2.2M358.3 647.2v2.2M379.0 627.0h2.2M380.1 625.9v2.2M373.3 631.0h2.2M374.4 629.9v2.2M382.4 623.6h2.2M383.5 622.5v2.2M382.0 623.6h2.2M383.1 622.5v2.2M393.3 612.3h2.2M394.4 611.2v2.2M393.5 610.2h2.2M394.6 609.1v2.2M385.6 619.0h2.2M386.7 617.9v2.2M359.4 645.3h2.2M360.5 644.2v2.2M354.3 651.5h2.2M355.4 650.4v2.2M384.7 620.9h2.2M385.8 619.8v2.2M393.0 611.5h2.2M394.1 610.4v2.2M365.1 640.5h2.2M366.2 639.4v2.2M394.1 610.1h2.2M395.2 609.0v2.2M393.8 610.8h2.2M394.9 609.7v2.2M392.1 611.7h2.2M393.2 610.6v2.2M352.7 651.6h2.2M353.8 650.5v2.2M381.2 622.9h2.2M382.3 621.8v2.2M368.6 636.1h2.2M369.7 635.0v2.2M356.6 648.4h2.2M357.7 647.3v2.2M398.0 607.4h2.2M399.1 606.3v2.2M397.1 608.3h2.2M398.2 607.2v2.2M388.3 618.1h2.2M389.4 617.0v2.2M361.4 644.4h2.2M362.5 643.3v2.2M388.0 616.8h2.2M389.1 615.7v2.2M350.4 654.5h2.2M351.5 653.4v2.2M397.0 607.5h2.2M398.1 606.4v2.2M360.3 644.8h2.2M361.4 643.7v2.2M327.3 677.7h2.2M328.4 676.6v2.2M338.7 666.2h2.2M339.8 665.1v2.2M338.5 665.5h2.2M339.6 664.4v2.2M407.5 598.2h2.2M408.6 597.1v2.2M403.7 601.3h2.2M404.8 600.2v2.2M401.7 602.5h2.2M402.8 601.4v2.2" stroke="#0b30ff" stroke-width="1"/>
<path d="M380.5 623.3l2.4 2.4M380.5 625.7l2.4-2.4" stroke="#ff2200" stroke-width="1"/>
<ellipse cx="370.8" cy="635.5" rx="13.4" ry="3.3" fill="#ff2200" transform="rotate(-45 370.8 635.5)"/>
<path d="M284.0 722.0L459.6 546.6" stroke="#000" stroke-width="1.15"/>
</g>
<rect x="284.00" y="546.60" width="175.60" height="175.40" fill="none" stroke="#0a0a0a" stroke-width="1.35"/>
<text x="283.70" y="558.60" font-family="'Liberation Serif', serif" font-size="10.5" text-anchor="start" fill="#111">MOMT</text>
<text x="316.60" y="569.00" font-family="'Liberation Serif', serif" font-size="10.5" text-anchor="end" fill="#111">Tens</text>
<path d="M337.20 554.80h2.2M338.30 553.70v2.2" stroke="#2448ff" stroke-width="1"/>
<path d="M337.10 564.80l2.4 2.4M337.10 567.20l2.4-2.4" stroke="#ff3f1f" stroke-width="0.9"/>
<text x="309.50" y="513.70" font-family="'Liberation Sans', sans-serif" font-size="12" fill="#111">MAE (<tspan font-style="italic">F</tspan>) = 71.7 meV/Å</text>
<text x="296.90" y="533.00" font-family="'Liberation Sans', sans-serif" font-size="12" fill="#111">MAE<tspan font-size="7.6" dx="0.6" dy="0.8">Ten</tspan><tspan dy="-0.8"> (</tspan><tspan font-style="italic">F</tspan>) = 59.3 meV/Å</text>
<text x="328.90" y="757.60" font-family="'Liberation Sans', sans-serif" font-size="16.3" fill="#111"><tspan font-style="italic">F</tspan><tspan font-style="italic" font-size="10.6" dy="1.3">DFT</tspan><tspan dy="-1.3"> (eV/Å)</tspan></text>
<text transform="translate(257.70,692.30) rotate(-90)" font-family="'Liberation Sans', sans-serif" font-size="16.5" fill="#111"><tspan font-style="italic">F</tspan><tspan font-style="italic" font-size="10.8" dy="1.2">NNP+Coul</tspan><tspan dy="-1.2"> (eV/Å)</tspan></text>
<clipPath id="cc3"><rect x="502.3" y="546.8" width="175.59999999999997" height="175.5"/></clipPath>
<text x="503.10" y="737.00" font-family="'Liberation Serif', serif" font-size="10" text-anchor="middle" fill="#111">-20</text>
<text x="496.00" y="725.70" font-family="'Liberation Serif', serif" font-size="10" text-anchor="end" fill="#111">-20</text>
<text x="525.05" y="737.00" font-family="'Liberation Serif', serif" font-size="10" text-anchor="middle" fill="#111">-15</text>
<text x="496.00" y="703.76" font-family="'Liberation Serif', serif" font-size="10" text-anchor="end" fill="#111">-15</text>
<text x="547.00" y="737.00" font-family="'Liberation Serif', serif" font-size="10" text-anchor="middle" fill="#111">-10</text>
<text x="496.00" y="681.82" font-family="'Liberation Serif', serif" font-size="10" text-anchor="end" fill="#111">-10</text>
<text x="568.95" y="737.00" font-family="'Liberation Serif', serif" font-size="10" text-anchor="middle" fill="#111">-5</text>
<text x="496.00" y="659.89" font-family="'Liberation Serif', serif" font-size="10" text-anchor="end" fill="#111">-5</text>
<text x="590.90" y="737.00" font-family="'Liberation Serif', serif" font-size="10" text-anchor="middle" fill="#111">0</text>
<text x="496.00" y="637.95" font-family="'Liberation Serif', serif" font-size="10" text-anchor="end" fill="#111">0</text>
<text x="612.85" y="737.00" font-family="'Liberation Serif', serif" font-size="10" text-anchor="middle" fill="#111">5</text>
<text x="496.00" y="616.01" font-family="'Liberation Serif', serif" font-size="10" text-anchor="end" fill="#111">5</text>
<text x="634.80" y="737.00" font-family="'Liberation Serif', serif" font-size="10" text-anchor="middle" fill="#111">10</text>
<text x="496.00" y="594.07" font-family="'Liberation Serif', serif" font-size="10" text-anchor="end" fill="#111">10</text>
<text x="656.75" y="737.00" font-family="'Liberation Serif', serif" font-size="10" text-anchor="middle" fill="#111">15</text>
<text x="496.00" y="572.14" font-family="'Liberation Serif', serif" font-size="10" text-anchor="end" fill="#111">15</text>
<text x="678.70" y="737.00" font-family="'Liberation Serif', serif" font-size="10" text-anchor="middle" fill="#111">20</text>
<text x="496.00" y="550.20" font-family="'Liberation Serif', serif" font-size="10" text-anchor="end" fill="#111">20</text>
<path d="M502.30 722.3v-3.0M502.30 546.8v3.0M502.3 722.30h3.0M677.9 722.30h-3.0M524.25 722.3v-3.0M524.25 546.8v3.0M502.3 700.36h3.0M677.9 700.36h-3.0M546.20 722.3v-3.0M546.20 546.8v3.0M502.3 678.42h3.0M677.9 678.42h-3.0M568.15 722.3v-3.0M568.15 546.8v3.0M502.3 656.49h3.0M677.9 656.49h-3.0M590.10 722.3v-3.0M590.10 546.8v3.0M502.3 634.55h3.0M677.9 634.55h-3.0M612.05 722.3v-3.0M612.05 546.8v3.0M502.3 612.61h3.0M677.9 612.61h-3.0M634.00 722.3v-3.0M634.00 546.8v3.0M502.3 590.67h3.0M677.9 590.67h-3.0M655.95 722.3v-3.0M655.95 546.8v3.0M502.3 568.74h3.0M677.9 568.74h-3.0M677.90 722.3v-3.0M677.90 546.8v3.0M502.3 546.80h3.0M677.9 546.80h-3.0" stroke="#0a0a0a" stroke-width="0.9"/>
<g clip-path="url(#cc3)" fill="none">
<path d="M521.6 703.0L551.9 672.7" stroke="#0b30ff" stroke-width="3.7" stroke-linecap="round"/>
<path d="M537.7 686.0h2.2M538.8 684.9v2.2M535.3 689.1h2.2M536.4 688.0v2.2M542.4 679.9h2.2M543.5 678.8v2.2M527.7 697.6h2.2M528.8 696.5v2.2M534.3 687.3h2.2M535.4 686.2v2.2M539.5 683.3h2.2M540.6 682.2v2.2M526.5 695.6h2.2M527.6 694.5v2.2M547.2 677.0h2.2M548.3 675.9v2.2M544.0 678.6h2.2M545.1 677.5v2.2M531.3 691.7h2.2M532.4 690.6v2.2M534.3 690.5h2.2M535.4 689.4v2.2M532.3 689.9h2.2M533.4 688.8v2.2M522.6 699.7h2.2M523.7 698.6v2.2M536.5 685.6h2.2M537.6 684.5v2.2M534.9 686.8h2.2M536.0 685.7v2.2M523.1 701.1h2.2M524.2 700.0v2.2M542.0 680.6h2.2M543.1 679.5v2.2M540.9 683.8h2.2M542.0 682.7v2.2M522.5 699.8h2.2M523.6 698.7v2.2M532.0 690.8h2.2M533.1 689.7v2.2M534.1 690.7h2.2M535.2 689.6v2.2M526.9 696.0h2.2M528.0 694.9v2.2M549.3 673.9h2.2M550.4 672.8v2.2M539.0 686.2h2.2M540.1 685.1v2.2M531.6 690.4h2.2M532.7 689.3v2.2M537.7 685.2h2.2M538.8 684.1v2.2M540.6 681.8h2.2M541.7 680.7v2.2M551.2 673.9h2.2M552.3 672.8v2.2M538.5 685.6h2.2M539.6 684.5v2.2M537.3 685.5h2.2M538.4 684.4v2.2M547.8 674.4h2.2M548.9 673.3v2.2M528.6 693.5h2.2M529.7 692.4v2.2M524.0 700.5h2.2M525.1 699.4v2.2M536.0 686.4h2.2M537.1 685.3v2.2M548.9 673.7h2.2M550.0 672.6v2.2M522.4 701.8h2.2M523.5 700.7v2.2M540.6 681.2h2.2M541.7 680.1v2.2M531.8 691.3h2.2M532.9 690.2v2.2M537.8 685.5h2.2M538.9 684.4v2.2M536.5 688.3h2.2M537.6 687.2v2.2M532.6 691.2h2.2M533.7 690.1v2.2M545.4 679.8h2.2M546.5 678.7v2.2M539.8 685.4h2.2M540.9 684.3v2.2M524.8 696.0h2.2M525.9 694.9v2.2M539.6 683.5h2.2M540.7 682.4v2.2M520.4 703.0h2.2M521.5 701.9v2.2M521.3 701.9h2.2M522.4 700.8v2.2M538.3 685.7h2.2M539.4 684.6v2.2M530.5 693.9h2.2M531.6 692.8v2.2M539.7 684.5h2.2M540.8 683.4v2.2M544.9 677.8h2.2M546.0 676.7v2.2M547.7 674.7h2.2M548.8 673.6v2.2M521.3 703.8h2.2M522.4 702.7v2.2M548.5 674.8h2.2M549.6 673.7v2.2M510.1 713.6h2.2M511.2 712.5v2.2" stroke="#0b30ff" stroke-width="1"/>
<path d="M552.1 672.9L664.1 561.1" stroke="#ff2200" stroke-width="5.0" stroke-linecap="round"/>
<path d="M592.2 632.6l2.4 2.4M592.2 635.0l2.4-2.4M585.4 634.7l2.4 2.4M585.4 637.1l2.4-2.4M651.5 573.8l2.4 2.4M651.5 576.2l2.4-2.4M654.4 570.3l2.4 2.4M654.4 572.7l2.4-2.4M617.9 603.4l2.4 2.4M617.9 605.8l2.4-2.4M650.7 573.9l2.4 2.4M650.7 576.3l2.4-2.4M556.3 663.9l2.4 2.4M556.3 666.3l2.4-2.4M557.4 667.7l2.4 2.4M557.4 670.1l2.4-2.4M627.7 596.2l2.4 2.4M627.7 598.6l2.4-2.4M554.6 665.6l2.4 2.4M554.6 668.0l2.4-2.4M605.4 616.1l2.4 2.4M605.4 618.5l2.4-2.4M563.7 661.7l2.4 2.4M563.7 664.1l2.4-2.4M619.1 602.4l2.4 2.4M619.1 604.8l2.4-2.4M567.4 654.1l2.4 2.4M567.4 656.5l2.4-2.4M639.2 585.6l2.4 2.4M639.2 588.0l2.4-2.4M590.2 631.4l2.4 2.4M590.2 633.8l2.4-2.4M653.6 567.6l2.4 2.4M653.6 570.0l2.4-2.4M551.8 669.0l2.4 2.4M551.8 671.4l2.4-2.4M570.9 653.1l2.4 2.4M570.9 655.5l2.4-2.4M644.5 575.9l2.4 2.4M644.5 578.3l2.4-2.4M571.0 649.3l2.4 2.4M571.0 651.7l2.4-2.4M605.7 614.5l2.4 2.4M605.7 616.9l2.4-2.4M590.5 630.2l2.4 2.4M590.5 632.6l2.4-2.4M610.9 613.3l2.4 2.4M610.9 615.7l2.4-2.4M583.5 638.0l2.4 2.4M583.5 640.4l2.4-2.4M639.3 581.8l2.4 2.4M639.3 584.2l2.4-2.4M571.2 649.2l2.4 2.4M571.2 651.6l2.4-2.4M633.7 587.8l2.4 2.4M633.7 590.2l2.4-2.4M608.4 617.0l2.4 2.4M608.4 619.4l2.4-2.4M662.5 561.4l2.4 2.4M662.5 563.8l2.4-2.4M577.5 643.1l2.4 2.4M577.5 645.5l2.4-2.4M608.0 613.6l2.4 2.4M608.0 616.0l2.4-2.4M581.9 637.9l2.4 2.4M581.9 640.3l2.4-2.4M559.9 663.8l2.4 2.4M559.9 666.2l2.4-2.4M566.3 654.0l2.4 2.4M566.3 656.4l2.4-2.4M633.9 586.7l2.4 2.4M633.9 589.1l2.4-2.4M655.0 565.6l2.4 2.4M655.0 568.0l2.4-2.4M613.2 611.6l2.4 2.4M613.2 614.0l2.4-2.4M569.1 651.1l2.4 2.4M569.1 653.5l2.4-2.4M577.3 643.9l2.4 2.4M577.3 646.3l2.4-2.4M599.5 620.3l2.4 2.4M599.5 622.7l2.4-2.4M654.6 569.2l2.4 2.4M654.6 571.6l2.4-2.4M632.8 592.1l2.4 2.4M632.8 594.5l2.4-2.4M577.3 643.7l2.4 2.4M577.3 646.1l2.4-2.4M659.6 566.0l2.4 2.4M659.6 568.4l2.4-2.4M572.8 652.4l2.4 2.4M572.8 654.8l2.4-2.4M632.6 591.3l2.4 2.4M632.6 593.7l2.4-2.4M556.0 669.2l2.4 2.4M556.0 671.6l2.4-2.4M623.3 602.1l2.4 2.4M623.3 604.5l2.4-2.4M621.8 598.3l2.4 2.4M621.8 600.7l2.4-2.4M652.6 571.7l2.4 2.4M652.6 574.1l2.4-2.4M565.2 660.2l2.4 2.4M565.2 662.6l2.4-2.4M554.9 666.0l2.4 2.4M554.9 668.4l2.4-2.4M642.2 578.7l2.4 2.4M642.2 581.1l2.4-2.4M622.5 598.3l2.4 2.4M622.5 600.7l2.4-2.4M660.4 564.5l2.4 2.4M660.4 566.9l2.4-2.4M582.3 642.6l2.4 2.4M582.3 645.0l2.4-2.4M559.5 665.5l2.4 2.4M559.5 667.9l2.4-2.4M595.0 630.5l2.4 2.4M595.0 632.9l2.4-2.4M624.5 595.4l2.4 2.4M624.5 597.8l2.4-2.4M587.3 636.5l2.4 2.4M587.3 638.9l2.4-2.4M605.4 616.0l2.4 2.4M605.4 618.4l2.4-2.4M579.8 643.9l2.4 2.4M579.8 646.3l2.4-2.4M659.9 560.7l2.4 2.4M659.9 563.1l2.4-2.4M595.2 628.9l2.4 2.4M595.2 631.3l2.4-2.4M553.1 671.4l2.4 2.4M553.1 673.8l2.4-2.4M605.8 618.1l2.4 2.4M605.8 620.5l2.4-2.4M648.4 575.6l2.4 2.4M648.4 578.0l2.4-2.4M595.2 630.1l2.4 2.4M595.2 632.5l2.4-2.4M621.5 603.6l2.4 2.4M621.5 606.0l2.4-2.4M632.6 591.8l2.4 2.4M632.6 594.2l2.4-2.4M557.8 663.5l2.4 2.4M557.8 665.9l2.4-2.4M555.9 668.3l2.4 2.4M555.9 670.7l2.4-2.4M624.0 599.9l2.4 2.4M624.0 602.3l2.4-2.4M555.1 665.4l2.4 2.4M555.1 667.8l2.4-2.4M654.6 570.3l2.4 2.4M654.6 572.7l2.4-2.4M577.4 646.7l2.4 2.4M577.4 649.1l2.4-2.4M564.1 659.8l2.4 2.4M564.1 662.2l2.4-2.4M610.1 614.0l2.4 2.4M610.1 616.4l2.4-2.4M610.0 610.9l2.4 2.4M610.0 613.3l2.4-2.4M594.1 630.3l2.4 2.4M594.1 632.7l2.4-2.4M605.5 620.1l2.4 2.4M605.5 622.5l2.4-2.4M552.7 667.2l2.4 2.4M552.7 669.6l2.4-2.4M597.5 623.6l2.4 2.4M597.5 626.0l2.4-2.4M583.6 640.4l2.4 2.4M583.6 642.8l2.4-2.4M639.1 580.8l2.4 2.4M639.1 583.2l2.4-2.4M563.7 660.5l2.4 2.4M563.7 662.9l2.4-2.4M585.4 639.7l2.4 2.4M585.4 642.1l2.4-2.4M639.8 585.1l2.4 2.4M639.8 587.5l2.4-2.4M646.5 573.7l2.4 2.4M646.5 576.1l2.4-2.4M564.7 660.3l2.4 2.4M564.7 662.7l2.4-2.4M646.8 573.8l2.4 2.4M646.8 576.2l2.4-2.4M625.2 594.6l2.4 2.4M625.2 597.0l2.4-2.4M643.5 576.4l2.4 2.4M643.5 578.8l2.4-2.4M566.0 654.7l2.4 2.4M566.0 657.1l2.4-2.4M561.9 662.6l2.4 2.4M561.9 665.0l2.4-2.4M616.5 607.8l2.4 2.4M616.5 610.2l2.4-2.4M619.6 604.6l2.4 2.4M619.6 607.0l2.4-2.4M626.5 597.8l2.4 2.4M626.5 600.2l2.4-2.4M592.9 631.9l2.4 2.4M592.9 634.3l2.4-2.4M579.3 641.3l2.4 2.4M579.3 643.7l2.4-2.4M589.6 634.4l2.4 2.4M589.6 636.8l2.4-2.4M626.8 593.7l2.4 2.4M626.8 596.1l2.4-2.4M604.0 619.8l2.4 2.4M604.0 622.2l2.4-2.4M632.3 592.9l2.4 2.4M632.3 595.3l2.4-2.4M569.5 650.5l2.4 2.4M569.5 652.9l2.4-2.4M654.8 566.3l2.4 2.4M654.8 568.7l2.4-2.4M614.6 609.7l2.4 2.4M614.6 612.1l2.4-2.4M632.9 587.7l2.4 2.4M632.9 590.1l2.4-2.4M620.8 603.2l2.4 2.4M620.8 605.6l2.4-2.4M618.9 605.6l2.4 2.4M618.9 608.0l2.4-2.4M646.5 578.3l2.4 2.4M646.5 580.7l2.4-2.4M627.3 597.1l2.4 2.4M627.3 599.5l2.4-2.4M656.4 568.3l2.4 2.4M656.4 570.7l2.4-2.4M642.2 578.5l2.4 2.4M642.2 580.9l2.4-2.4M645.4 574.5l2.4 2.4M645.4 576.9l2.4-2.4M558.3 666.3l2.4 2.4M558.3 668.7l2.4-2.4M563.5 661.8l2.4 2.4M563.5 664.2l2.4-2.4M568.2 653.2l2.4 2.4M568.2 655.6l2.4-2.4M617.1 602.8l2.4 2.4M617.1 605.2l2.4-2.4M591.3 628.7l2.4 2.4M591.3 631.1l2.4-2.4M614.3 611.1l2.4 2.4M614.3 613.5l2.4-2.4M625.9 595.2l2.4 2.4M625.9 597.6l2.4-2.4M636.6 584.1l2.4 2.4M636.6 586.5l2.4-2.4M550.8 669.2l2.4 2.4M550.8 671.6l2.4-2.4M605.9 618.8l2.4 2.4M605.9 621.2l2.4-2.4M558.4 666.0l2.4 2.4M558.4 668.4l2.4-2.4M593.3 632.3l2.4 2.4M593.3 634.7l2.4-2.4M639.1 582.4l2.4 2.4M639.1 584.8l2.4-2.4M617.8 602.4l2.4 2.4M617.8 604.8l2.4-2.4M593.7 626.2l2.4 2.4M593.7 628.6l2.4-2.4M626.7 594.8l2.4 2.4M626.7 597.2l2.4-2.4M563.1 657.5l2.4 2.4M563.1 659.9l2.4-2.4M659.6 565.0l2.4 2.4M659.6 567.4l2.4-2.4M615.7 609.2l2.4 2.4M615.7 611.6l2.4-2.4M635.3 585.2l2.4 2.4M635.3 587.6l2.4-2.4M584.4 635.6l2.4 2.4M584.4 638.0l2.4-2.4M575.3 648.4l2.4 2.4M575.3 650.8l2.4-2.4M570.5 653.5l2.4 2.4M570.5 655.9l2.4-2.4M567.2 657.6l2.4 2.4M567.2 660.0l2.4-2.4M567.3 653.5l2.4 2.4M567.3 655.9l2.4-2.4M619.4 604.8l2.4 2.4M619.4 607.2l2.4-2.4M557.3 667.2l2.4 2.4M557.3 669.6l2.4-2.4M560.8 664.8l2.4 2.4M560.8 667.2l2.4-2.4M586.8 633.2l2.4 2.4M586.8 635.6l2.4-2.4M640.7 584.6l2.4 2.4M640.7 587.0l2.4-2.4M653.9 570.7l2.4 2.4M653.9 573.1l2.4-2.4M583.9 637.3l2.4 2.4M583.9 639.7l2.4-2.4M623.8 600.7l2.4 2.4M623.8 603.1l2.4-2.4M567.4 653.0l2.4 2.4M567.4 655.4l2.4-2.4M585.4 634.5l2.4 2.4M585.4 636.9l2.4-2.4M641.2 584.1l2.4 2.4M641.2 586.5l2.4-2.4M576.9 644.3l2.4 2.4M576.9 646.7l2.4-2.4M611.4 608.6l2.4 2.4M611.4 611.0l2.4-2.4M616.3 603.9l2.4 2.4M616.3 606.3l2.4-2.4M587.3 632.7l2.4 2.4M587.3 635.1l2.4-2.4M656.8 567.9l2.4 2.4M656.8 570.3l2.4-2.4M564.9 659.2l2.4 2.4M564.9 661.6l2.4-2.4M577.2 643.5l2.4 2.4M577.2 645.9l2.4-2.4M622.4 598.9l2.4 2.4M622.4 601.3l2.4-2.4M561.0 664.5l2.4 2.4M561.0 666.9l2.4-2.4M619.3 604.6l2.4 2.4M619.3 607.0l2.4-2.4M606.6 614.3l2.4 2.4M606.6 616.7l2.4-2.4M622.1 597.8l2.4 2.4M622.1 600.2l2.4-2.4M639.6 585.4l2.4 2.4M639.6 587.8l2.4-2.4M589.3 631.2l2.4 2.4M589.3 633.6l2.4-2.4M582.3 643.0l2.4 2.4M582.3 645.4l2.4-2.4M594.9 629.3l2.4 2.4M594.9 631.7l2.4-2.4M587.6 637.9l2.4 2.4M587.6 640.3l2.4-2.4M569.3 651.2l2.4 2.4M569.3 653.6l2.4-2.4M623.6 602.0l2.4 2.4M623.6 604.4l2.4-2.4M611.4 613.4l2.4 2.4M611.4 615.8l2.4-2.4M637.2 584.0l2.4 2.4M637.2 586.4l2.4-2.4M648.0 572.4l2.4 2.4M648.0 574.8l2.4-2.4M655.0 564.9l2.4 2.4M655.0 567.3l2.4-2.4M640.0 580.4l2.4 2.4M640.0 582.8l2.4-2.4M553.3 667.4l2.4 2.4M553.3 669.8l2.4-2.4M551.6 669.8l2.4 2.4M551.6 672.2l2.4-2.4M640.3 583.9l2.4 2.4M640.3 586.3l2.4-2.4M602.4 618.6l2.4 2.4M602.4 621.0l2.4-2.4M553.9 666.9l2.4 2.4M553.9 669.3l2.4-2.4M580.6 643.7l2.4 2.4M580.6 646.1l2.4-2.4M654.8 569.2l2.4 2.4M654.8 571.6l2.4-2.4M642.0 582.0l2.4 2.4M642.0 584.4l2.4-2.4M625.1 599.0l2.4 2.4M625.1 601.4l2.4-2.4M618.5 601.3l2.4 2.4M618.5 603.7l2.4-2.4M614.2 605.7l2.4 2.4M614.2 608.1l2.4-2.4M636.7 587.9l2.4 2.4M636.7 590.3l2.4-2.4M638.7 585.4l2.4 2.4M638.7 587.8l2.4-2.4M609.0 611.2l2.4 2.4M609.0 613.6l2.4-2.4M633.7 587.8l2.4 2.4M633.7 590.2l2.4-2.4M568.5 656.8l2.4 2.4M568.5 659.2l2.4-2.4M658.0 563.4l2.4 2.4M658.0 565.8l2.4-2.4M567.7 657.1l2.4 2.4M567.7 659.5l2.4-2.4M581.6 639.8l2.4 2.4M581.6 642.2l2.4-2.4M587.8 633.8l2.4 2.4M587.8 636.2l2.4-2.4M613.6 611.8l2.4 2.4M613.6 614.2l2.4-2.4M573.8 647.3l2.4 2.4M573.8 649.7l2.4-2.4M637.9 586.6l2.4 2.4M637.9 589.0l2.4-2.4M610.1 614.4l2.4 2.4M610.1 616.8l2.4-2.4M556.7 668.2l2.4 2.4M556.7 670.6l2.4-2.4M563.9 660.9l2.4 2.4M563.9 663.3l2.4-2.4M613.9 607.8l2.4 2.4M613.9 610.2l2.4-2.4M660.3 560.2l2.4 2.4M660.3 562.6l2.4-2.4M603.5 617.8l2.4 2.4M603.5 620.2l2.4-2.4M635.1 586.2l2.4 2.4M635.1 588.6l2.4-2.4M575.5 650.2l2.4 2.4M575.5 652.6l2.4-2.4M563.8 658.3l2.4 2.4M563.8 660.7l2.4-2.4M651.6 570.2l2.4 2.4M651.6 572.6l2.4-2.4M653.5 569.9l2.4 2.4M653.5 572.3l2.4-2.4M590.2 632.4l2.4 2.4M590.2 634.8l2.4-2.4M578.4 645.7l2.4 2.4M578.4 648.1l2.4-2.4M638.9 585.6l2.4 2.4M638.9 588.0l2.4-2.4M600.6 623.7l2.4 2.4M600.6 626.1l2.4-2.4M592.0 630.2l2.4 2.4M592.0 632.6l2.4-2.4M602.3 621.3l2.4 2.4M602.3 623.7l2.4-2.4M588.3 636.4l2.4 2.4M588.3 638.8l2.4-2.4M614.3 608.1l2.4 2.4M614.3 610.5l2.4-2.4M594.0 628.4l2.4 2.4M594.0 630.8l2.4-2.4M590.7 631.4l2.4 2.4M590.7 633.8l2.4-2.4M598.5 624.1l2.4 2.4M598.5 626.5l2.4-2.4M656.7 565.8l2.4 2.4M656.7 568.2l2.4-2.4M586.4 636.6l2.4 2.4M586.4 639.0l2.4-2.4M592.2 630.7l2.4 2.4M592.2 633.1l2.4-2.4M616.7 605.2l2.4 2.4M616.7 607.6l2.4-2.4M645.5 577.9l2.4 2.4M645.5 580.3l2.4-2.4M562.1 660.0l2.4 2.4M562.1 662.4l2.4-2.4M552.1 670.4l2.4 2.4M552.1 672.8l2.4-2.4M632.7 591.0l2.4 2.4M632.7 593.4l2.4-2.4M639.3 582.6l2.4 2.4M639.3 585.0l2.4-2.4M585.8 636.4l2.4 2.4M585.8 638.8l2.4-2.4M637.3 585.5l2.4 2.4M637.3 587.9l2.4-2.4M602.1 621.8l2.4 2.4M602.1 624.2l2.4-2.4M591.8 633.4l2.4 2.4M591.8 635.8l2.4-2.4M579.8 642.4l2.4 2.4M579.8 644.8l2.4-2.4M641.1 579.9l2.4 2.4M641.1 582.3l2.4-2.4M659.2 564.5l2.4 2.4M659.2 566.9l2.4-2.4M655.3 565.4l2.4 2.4M655.3 567.8l2.4-2.4M571.2 647.6l2.4 2.4M571.2 650.0l2.4-2.4M640.8 581.0l2.4 2.4M640.8 583.4l2.4-2.4M599.9 621.9l2.4 2.4M599.9 624.3l2.4-2.4M645.4 577.7l2.4 2.4M645.4 580.1l2.4-2.4M652.2 571.4l2.4 2.4M652.2 573.8l2.4-2.4M648.3 574.8l2.4 2.4M648.3 577.2l2.4-2.4M582.7 640.0l2.4 2.4M582.7 642.4l2.4-2.4M585.0 640.7l2.4 2.4M585.0 643.1l2.4-2.4M616.8 604.2l2.4 2.4M616.8 606.6l2.4-2.4M642.5 579.3l2.4 2.4M642.5 581.7l2.4-2.4M632.8 589.5l2.4 2.4M632.8 591.9l2.4-2.4M588.9 633.7l2.4 2.4M588.9 636.1l2.4-2.4M556.0 666.2l2.4 2.4M556.0 668.6l2.4-2.4M597.7 626.4l2.4 2.4M597.7 628.8l2.4-2.4M614.4 608.7l2.4 2.4M614.4 611.1l2.4-2.4M582.2 638.3l2.4 2.4M582.2 640.7l2.4-2.4M588.2 634.2l2.4 2.4M588.2 636.6l2.4-2.4M606.3 617.2l2.4 2.4M606.3 619.6l2.4-2.4M555.9 665.9l2.4 2.4M555.9 668.3l2.4-2.4M584.0 638.8l2.4 2.4M584.0 641.2l2.4-2.4M553.5 668.5l2.4 2.4M553.5 670.9l2.4-2.4M603.3 616.5l2.4 2.4M603.3 618.9l2.4-2.4M590.9 631.4l2.4 2.4M590.9 633.8l2.4-2.4M600.7 622.3l2.4 2.4M600.7 624.7l2.4-2.4M562.0 660.8l2.4 2.4M562.0 663.2l2.4-2.4M639.9 584.4l2.4 2.4M639.9 586.8l2.4-2.4M589.6 633.7l2.4 2.4M589.6 636.1l2.4-2.4" stroke="#ff2200" stroke-width="1"/>
<path d="M502.3 722.3L677.9 546.8" stroke="#000" stroke-width="1.15"/>
</g>
<rect x="502.30" y="546.80" width="175.60" height="175.50" fill="none" stroke="#0a0a0a" stroke-width="1.35"/>
<text x="502.00" y="558.80" font-family="'Liberation Serif', serif" font-size="10.5" text-anchor="start" fill="#111">MOMT</text>
<text x="534.90" y="569.20" font-family="'Liberation Serif', serif" font-size="10.5" text-anchor="end" fill="#111">Tens</text>
<path d="M555.50 555.00h2.2M556.60 553.90v2.2" stroke="#2448ff" stroke-width="1"/>
<path d="M555.40 565.00l2.4 2.4M555.40 567.40l2.4-2.4" stroke="#ff3f1f" stroke-width="0.9"/>
<text x="531.20" y="515.10" font-family="'Liberation Sans', sans-serif" font-size="12" fill="#111">MAE (<tspan font-style="italic">σ</tspan>) = 98.9 MPa</text>
<text x="519.00" y="534.80" font-family="'Liberation Sans', sans-serif" font-size="12" fill="#111">MAE<tspan font-size="7.6" dx="0.6" dy="0.8">Ten</tspan><tspan dy="-0.8"> (</tspan><tspan font-style="italic">σ</tspan>) = 117.4 MPa</text>
<text x="554.50" y="757.50" font-family="'Liberation Sans', sans-serif" font-size="16.3" fill="#111"><tspan font-style="italic">σ</tspan><tspan font-style="italic" font-size="10.6" dy="1.3">DFT</tspan><tspan dy="-1.3"> (GPa)</tspan></text>
<text transform="translate(480.70,692.60) rotate(-90)" font-family="'Liberation Sans', sans-serif" font-size="16.5" fill="#111"><tspan font-style="italic">σ</tspan><tspan font-style="italic" font-size="10.8" dy="1.2">NNP+Coul</tspan><tspan dy="-1.2"> (GPa)</tspan></text>
<text x="-1.2" y="18.2" font-family="'Liberation Sans', sans-serif" font-size="32" fill="#000">a</text>
<text x="0" y="258.8" font-family="'Liberation Sans', sans-serif" font-size="32" fill="#000">b</text>
<text x="2.2" y="507.5" font-family="'Liberation Sans', sans-serif" font-size="32" fill="#000">c</text>
</svg></body></html>
